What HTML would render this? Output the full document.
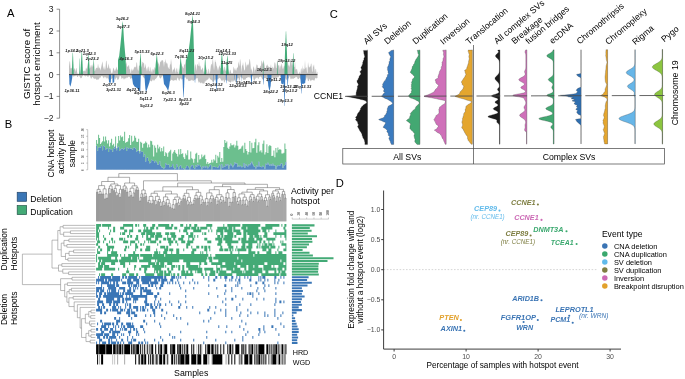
<!DOCTYPE html>
<html><head><meta charset="utf-8"><title>Figure</title>
<style>html,body{margin:0;padding:0;background:#fff;}body{width:685px;height:379px;overflow:hidden;font-family:"Liberation Sans",sans-serif;}svg{display:block;will-change:transform;}</style>
</head><body>
<svg width="685" height="379" viewBox="0 0 685 379" font-family="&quot;Liberation Sans&quot;, sans-serif">
<text x="7" y="16.5" font-size="11.2" text-anchor="start" fill="#000">A</text>
<text x="4.8" y="127.8" font-size="11.2" text-anchor="start" fill="#000">B</text>
<text x="329.8" y="17.5" font-size="11.2" text-anchor="start" fill="#000">C</text>
<text x="335.8" y="187" font-size="11.2" text-anchor="start" fill="#000">D</text>
<g stroke="#444" stroke-width="0.6" fill="none">
<line x1="59.6" y1="9.2" x2="59.6" y2="118.2"/>
<line x1="56.6" y1="118.2" x2="59.6" y2="118.2"/>
<line x1="56.6" y1="96.4" x2="59.6" y2="96.4"/>
<line x1="56.6" y1="74.6" x2="59.6" y2="74.6"/>
<line x1="56.6" y1="52.8" x2="59.6" y2="52.8"/>
<line x1="56.6" y1="31" x2="59.6" y2="31"/>
<line x1="56.6" y1="9.2" x2="59.6" y2="9.2"/>
</g>
<text x="53.5" y="121.2" font-size="8.6" text-anchor="end" fill="#222">−2</text>
<text x="53.5" y="99.4" font-size="8.6" text-anchor="end" fill="#222">−1</text>
<text x="53.5" y="77.6" font-size="8.6" text-anchor="end" fill="#222">0</text>
<text x="53.5" y="55.8" font-size="8.6" text-anchor="end" fill="#222">1</text>
<text x="53.5" y="34" font-size="8.6" text-anchor="end" fill="#222">2</text>
<text x="53.5" y="12.2" font-size="8.6" text-anchor="end" fill="#222">3</text>
<text transform="translate(29.6,64.0) rotate(-90)" font-size="9.8" text-anchor="middle">GISTIC score of</text>
<text transform="translate(40.3,64.0) rotate(-90)" font-size="9.8" text-anchor="middle">hotspot enrichment</text>
<polygon fill="#c0c0c0" points="69,74.6 69,66.56 69.5,62.04 70,60.75 70.5,68.43 71,68.24 71.5,67.48 72,69.28 72.5,68.57 73,67.53 73.5,70.11 74,69.88 74.5,68.02 75,69.05 75.5,72.2 76,68.66 76.5,67.71 77,71.43 77.5,73.8 78,73.8 78.5,73.8 79,73.8 79.5,71.11 80,73.8 80.5,72.52 81,69.05 81.5,71.78 82,73.8 82.5,73.8 83,71.68 83.5,70.9 84,70.72 84.5,70.46 85,71.76 85.5,70.75 86,67.22 86.5,68.52 87,68.97 87.5,65.41 88,62.49 88.5,68.93 89,66.92 89.5,68.92 90,68.25 90.5,66.63 91,64.56 91.5,65.71 92,67.8 92.5,63.95 93,66.9 93.5,65.57 94,61.16 94.5,70.78 95,71.28 95.5,69.26 96,68.37 96.5,67.44 97,68.39 97.5,67.85 98,63.43 98.5,66.53 99,68.99 99.5,67.46 100,67.69 100.5,70.7 101,68.37 101.5,65.66 102,63.13 102.5,61.24 103,66.55 103.5,69.81 104,65.68 104.5,68.62 105,70.23 105.5,67.87 106,61.31 106.5,60.42 107,65.92 107.5,68.57 108,68.06 108.5,63.34 109,65.87 109.5,68.91 110,67.92 110.5,68.76 111,71.6 111.5,73.8 112,72.78 112.5,72.76 113,68.93 113.5,67.46 114,68.94 114.5,70.62 115,71.39 115.5,69.75 116,68.5 116.5,66.45 117,69.53 117.5,70.59 118,68.41 118.5,73.34 119,67.12 119.5,67.03 120,65.66 120.5,60.47 121,62.35 121.5,63.82 122,63.03 122.5,60.79 123,58.6 123.5,61.18 124,61.84 124.5,61.85 125,65.19 125.5,62.91 126,64.29 126.5,61.48 127,67.06 127.5,66.35 128,66.76 128.5,65.55 129,64.69 129.5,69.54 130,68.97 130.5,72.76 131,72.91 131.5,68 132,70.47 132.5,70.85 133,68.53 133.5,70.49 134,67.37 134.5,67.56 135,66.15 135.5,67.36 136,67.62 136.5,62.15 137,62.84 137.5,68.28 138,70.72 138.5,70.56 139,65.05 139.5,65.95 140,65.87 140.5,65.81 141,66.09 141.5,67.84 142,64.39 142.5,61.63 143,62 143.5,63.58 144,62.87 144.5,68.33 145,67.15 145.5,63.39 146,67.65 146.5,69.03 147,71.81 147.5,68.8 148,66.53 148.5,66.75 149,71.18 149.5,71.35 150,66.39 150.5,68.35 151,72.79 151.5,69.21 152,73.28 152.5,69.73 153,68.6 153.5,69.8 154,70.96 154.5,67.74 155,66.98 155.5,68.6 156,69.12 156.5,69.88 157,61.66 157.5,61.59 158,64.53 158.5,62.12 159,64.56 159.5,67.47 160,62.84 160.5,61.36 161,62 161.5,60.21 162,60.45 162.5,60.33 163,60.36 163.5,63.06 164,67.24 164.5,62.01 165,61.69 165.5,58.65 166,64.49 166.5,62.16 167,63.06 167.5,64.01 168,67.91 168.5,67.11 169,69.19 169.5,68.84 170,63.91 170.5,64.74 171,58.6 171.5,62.77 172,68.6 172.5,72.86 173,69.42 173.5,69.54 174,69.87 174.5,66.97 175,69.11 175.5,73.8 176,69.24 176.5,67.45 177,72.41 177.5,71.72 178,67.76 178.5,73.8 179,73.24 179.5,67.91 180,72.14 180.5,68.5 181,64.82 181.5,63.08 182,66.02 182.5,66.61 183,67.75 183.5,68.46 184,65.17 184.5,64.12 185,64.72 185.5,61.97 186,59 186.5,60.79 187,67 187.5,62.8 188,64.96 188.5,69.05 189,69.21 189.5,64.4 190,63.03 190.5,65.09 191,65.14 191.5,63.44 192,61.31 192.5,62.46 193,68.54 193.5,70.1 194,73.8 194.5,72.07 195,64.79 195.5,64.2 196,67.63 196.5,71.17 197,63.88 197.5,64.28 198,65.72 198.5,65.98 199,60.83 199.5,65.53 200,66.67 200.5,65.37 201,70.4 201.5,69.31 202,69.55 202.5,67.5 203,68.12 203.5,73.43 204,70.26 204.5,73.8 205,70.14 205.5,64.51 206,66.59 206.5,69.81 207,69.81 207.5,72.92 208,73.8 208.5,68.55 209,69.13 209.5,73.8 210,72.71 210.5,68.94 211,64.3 211.5,63.64 212,65.96 212.5,60.41 213,58.6 213.5,65.58 214,70.67 214.5,66.17 215,59.33 215.5,62.02 216,62.24 216.5,65.65 217,66.71 217.5,68.65 218,70.91 218.5,68.81 219,66.69 219.5,65.1 220,67.38 220.5,68.57 221,67.82 221.5,65.42 222,64.73 222.5,67.91 223,66.89 223.5,70.35 224,70.67 224.5,66.61 225,67.22 225.5,70.75 226,70.65 226.5,71.16 227,72.97 227.5,73.8 228,72.98 228.5,68.76 229,73.6 229.5,72.58 230,69.4 230.5,70.22 231,72.17 231.5,73.65 232,72.4 232.5,73.8 233,72.72 233.5,66.47 234,67.68 234.5,69.08 235,70.72 235.5,69.92 236,67.67 236.5,71.44 237,67.39 237.5,68.02 238,66.6 238.5,61.23 239,64.1 239.5,66.81 240,58.6 240.5,60.93 241,66.81 241.5,72.68 242,65.07 242.5,65.67 243,61.89 243.5,65.63 244,68.68 244.5,70.75 245,69.77 245.5,61.31 246,63.14 246.5,67.75 247,64.54 247.5,65.76 248,63.37 248.5,65.84 249,62.92 249.5,58.83 250,59.76 250.5,64.51 251,70.4 251.5,68.1 252,70.95 252.5,73.8 253,69.31 253.5,65.95 254,67.68 254.5,73.27 255,66.81 255.5,70.04 256,69.5 256.5,63.94 257,65.54 257.5,64.44 258,69.62 258.5,70.37 259,67.1 259.5,69.29 260,67.34 260.5,65.51 261,65.95 261.5,60.14 262,61.55 262.5,63.11 263,64.18 263.5,60.84 264,62.14 264.5,65.08 265,68.95 265.5,69.25 266,66.97 266.5,64.88 267,65.88 267.5,64.11 268,66.51 268.5,66.59 269,67.01 269.5,67.04 270,67.38 270.5,66.75 271,63.93 271.5,70.04 272,70.48 272.5,67.03 273,66.43 273.5,68.87 274,67.89 274.5,62.86 275,62.26 275.5,64.3 276,68.29 276.5,67.98 277,61.63 277.5,59.65 278,64.39 278.5,66.11 279,64.54 279.5,67.31 280,70.27 280.5,65.05 281,67.02 281.5,63.45 282,64.82 282.5,68.01 283,69.19 283.5,67.64 284,65.54 284.5,66.85 285,64.62 285.5,67.73 286,66.81 286.5,70.56 287,66.85 287.5,59.61 288,62.23 288.5,66.29 289,64.63 289.5,67.61 290,63.97 290.5,58.6 291,60.62 291.5,62.51 292,66.09 292.5,60.97 293,69.38 293.5,66.28 294,67.25 294.5,66.69 295,59.98 295.5,68.81 296,69.92 296.5,68.97 297,68.63 297.5,71.38 298,73.64 298.5,73.8 299,72.89 299.5,71.37 300,73.8 300.5,73.36 301,68.33 301.5,68.71 302,73.06 302.5,65.11 303,71.5 303.5,68.36 304,68.75 304.5,69.55 305,59.63 305.5,68.71 306,67.17 306.5,67.51 307,72.13 307.5,73.22 308,61.65 308.5,65.36 309,67.8 309.5,67.2 310,66.49 310.5,66.59 311,63.19 311.5,64.17 312,70.91 312.5,72.33 313,64.62 313.5,67.32 314,64.07 314.5,69.79 315,73.19 315.5,69.36 316,68.72 316.5,73.8 317,72.7 317.5,71.42 317.5,74.6 317.5,78.37 317,77.84 316.5,78.84 316,78.1 315.5,77.66 315,79.02 314.5,80.23 314,80.95 313.5,80.04 313,80.16 312.5,79.51 312,80.42 311.5,79.81 311,81.46 310.5,80.63 310,79.71 309.5,78.53 309,80.6 308.5,81.19 308,80.9 307.5,78.99 307,76.8 306.5,78.28 306,79.72 305.5,80.74 305,79.71 304.5,79.27 304,78.65 303.5,79.18 303,78.56 302.5,80.31 302,79.9 301.5,80.16 301,79.26 300.5,79.14 300,77.46 299.5,77.64 299,78.65 298.5,79.3 298,78.81 297.5,78.68 297,76.69 296.5,77.56 296,76.42 295.5,77.22 295,77.93 294.5,77.9 294,78.21 293.5,78.83 293,78.67 292.5,78.93 292,77.64 291.5,78.96 291,79.16 290.5,78.9 290,76.29 289.5,76.17 289,77.66 288.5,78.56 288,78.82 287.5,77.19 287,79.42 286.5,79.52 286,80.06 285.5,78.72 285,77.26 284.5,77.59 284,78.56 283.5,78.3 283,76.63 282.5,76.38 282,78.64 281.5,77.42 281,78.21 280.5,76.49 280,77.04 279.5,75.1 279,76.18 278.5,77.37 278,77.27 277.5,77.46 277,77.07 276.5,78.03 276,77.95 275.5,78.28 275,78.13 274.5,78.93 274,79.76 273.5,79.85 273,77.77 272.5,77.97 272,77.17 271.5,79.31 271,79.36 270.5,80.72 270,79.99 269.5,81.16 269,81.25 268.5,82.07 268,82.42 267.5,81.81 267,80.59 266.5,79.08 266,78.71 265.5,78.05 265,78.1 264.5,77.95 264,78.49 263.5,80.19 263,79.71 262.5,79.26 262,78.65 261.5,77.3 261,77.02 260.5,76.3 260,77.08 259.5,76.98 259,77.6 258.5,79.04 258,78.66 257.5,77.49 257,77.28 256.5,78.36 256,77.34 255.5,78.72 255,79.04 254.5,80.84 254,80.52 253.5,79.11 253,76.05 252.5,75.93 252,77.13 251.5,79.4 251,78.92 250.5,77.69 250,76.57 249.5,77.73 249,77.38 248.5,76.91 248,77.39 247.5,77.3 247,78.09 246.5,77.96 246,78.19 245.5,80.13 245,78.79 244.5,80.09 244,80.12 243.5,79.7 243,79.34 242.5,78.07 242,78.15 241.5,77.74 241,76.81 240.5,76.73 240,79.08 239.5,80.45 239,80.71 238.5,77.77 238,78.14 237.5,78.04 237,79.92 236.5,81.02 236,81.77 235.5,82.42 235,80.96 234.5,79.4 234,79.89 233.5,80.98 233,81.93 232.5,81.54 232,79.87 231.5,81.57 231,82.22 230.5,82.81 230,81.88 229.5,81.81 229,81.96 228.5,81.43 228,80.67 227.5,80.39 227,80.65 226.5,80.07 226,80.33 225.5,79.7 225,80.92 224.5,82.56 224,82.25 223.5,79.89 223,79.45 222.5,80.74 222,81.32 221.5,80.38 221,79.69 220.5,78.74 220,77.89 219.5,77.66 219,78.4 218.5,78.58 218,79.28 217.5,79.35 217,79.2 216.5,78.41 216,78.91 215.5,79.56 215,81.01 214.5,79.45 214,81.2 213.5,82.06 213,82.52 212.5,81.46 212,80.39 211.5,79.94 211,79.8 210.5,79.44 210,78.85 209.5,78.2 209,76.96 208.5,78.75 208,79.41 207.5,79.87 207,79.6 206.5,80.67 206,80.31 205.5,81.91 205,80.38 204.5,83.25 204,83.56 203.5,83.6 203,83.6 202.5,83.6 202,82.56 201.5,82.43 201,83.42 200.5,82.89 200,82.45 199.5,81.45 199,83.14 198.5,82.01 198,80.51 197.5,77.82 197,78.36 196.5,78.58 196,78.28 195.5,79.42 195,79.67 194.5,79.98 194,79.96 193.5,81.04 193,80.76 192.5,80.49 192,79.52 191.5,80.09 191,80.72 190.5,80.29 190,81.23 189.5,80.72 189,80.94 188.5,81.29 188,79.71 187.5,79.33 187,78.29 186.5,79.63 186,78.33 185.5,77.49 185,76.41 184.5,77.38 184,78.15 183.5,78.15 183,78.73 182.5,79.16 182,79.14 181.5,79.69 181,78.06 180.5,78.68 180,78.58 179.5,80.9 179,80.44 178.5,79.75 178,77.49 177.5,77.66 177,79.36 176.5,80.39 176,80.65 175.5,79.78 175,79.98 174.5,80.59 174,79.91 173.5,81.03 173,80.55 172.5,80.55 172,79.75 171.5,79.72 171,80.29 170.5,80.81 170,81.29 169.5,81.03 169,81.32 168.5,81.33 168,81.71 167.5,79.67 167,77.78 166.5,78.26 166,79.61 165.5,81.05 165,80.43 164.5,79.22 164,78.93 163.5,77.48 163,76.92 162.5,75.52 162,75.88 161.5,77.26 161,77.96 160.5,78.64 160,77.82 159.5,77.7 159,76.33 158.5,75.1 158,75.46 157.5,76.19 157,77.53 156.5,77.83 156,78.71 155.5,78.8 155,79.28 154.5,80.24 154,80.69 153.5,80.55 153,79.1 152.5,80.03 152,81.15 151.5,81.21 151,81.24 150.5,80.87 150,80.16 149.5,79.28 149,78.84 148.5,79 148,79.42 147.5,78.42 147,79.88 146.5,79.23 146,79.4 145.5,77.63 145,78.84 144.5,77.95 144,78.61 143.5,77 143,77.33 142.5,75.18 142,75.33 141.5,75.1 141,75.91 140.5,75.26 140,75.84 139.5,75.1 139,75.1 138.5,75.1 138,75.1 137.5,76.45 137,75.42 136.5,76.07 136,76.45 135.5,77.62 135,77.57 134.5,77.62 134,79 133.5,79.91 133,79.59 132.5,78.34 132,77.77 131.5,78.35 131,78.73 130.5,78.98 130,77.6 129.5,77.1 129,76.39 128.5,76.75 128,77.4 127.5,77.8 127,77.43 126.5,77.62 126,78.79 125.5,78.35 125,78.35 124.5,78.63 124,79.69 123.5,78.75 123,77.43 122.5,78.3 122,78.41 121.5,78.96 121,76.43 120.5,76.3 120,75.43 119.5,76.44 119,78.44 118.5,79.13 118,80.08 117.5,79.78 117,78.3 116.5,77.44 116,77.5 115.5,79.36 115,79.64 114.5,77.66 114,76.65 113.5,76.43 113,77.88 112.5,78.23 112,79.04 111.5,78.78 111,78.84 110.5,80.19 110,78.53 109.5,79.17 109,78.02 108.5,80.6 108,78.33 107.5,78.39 107,76.94 106.5,78.59 106,78.6 105.5,77.01 105,76.82 104.5,76.84 104,78.82 103.5,77.42 103,77.57 102.5,76.1 102,76.3 101.5,75.9 101,76.27 100.5,78.16 100,77.09 99.5,78.31 99,78.65 98.5,79.44 98,79.79 97.5,79.16 97,79.99 96.5,79.87 96,78.89 95.5,78.3 95,79.17 94.5,78.2 94,79.33 93.5,77.71 93,77.71 92.5,76.64 92,77.01 91.5,78.45 91,78.82 90.5,77.34 90,76.06 89.5,75.32 89,75.38 88.5,76.76 88,76.63 87.5,76.72 87,75.88 86.5,76.01 86,75.24 85.5,76.77 85,76.28 84.5,75.98 84,75.1 83.5,75.1 83,75.89 82.5,75.82 82,77.25 81.5,77.92 81,78.13 80.5,78.2 80,77.03 79.5,76.46 79,75.43 78.5,75.5 78,76.89 77.5,77.1 77,76.45 76.5,75.61 76,75.26 75.5,75.9 75,76.37 74.5,76.13 74,76.11 73.5,77.11 73,75.85 72.5,75.69 72,75.1 71.5,76.32 71,75.35 70.5,76.02 70,76.5 69.5,78.37 69,77.42"/>
<polygon fill="#45ad7a" fill-opacity="1" points="71.8,74.6 72.2,62.55 72.65,52.7 72.95,52.7 73.4,63.65 73.8,74.6"/>
<polygon fill="#45ad7a" fill-opacity="0.8" points="79.1,74.6 79.38,65.69 79.65,58.4 79.95,58.4 80.22,66.5 80.5,74.6"/>
<polygon fill="#45ad7a" fill-opacity="1" points="80.6,74.6 81.08,61.67 81.65,51.1 81.95,51.1 82.52,62.85 83,74.6"/>
<polygon fill="#45ad7a" fill-opacity="1" points="87.6,74.6 88.04,63.49 88.55,54.4 88.85,54.4 89.36,64.5 89.8,74.6"/>
<polygon fill="#45ad7a" fill-opacity="0.7" points="92.7,74.6 93.06,65.69 93.45,58.4 93.75,58.4 94.14,66.5 94.5,74.6"/>
<polygon fill="#45ad7a" fill-opacity="1" points="139.3,74.6 139.78,63.05 140.35,53.6 140.65,53.6 141.22,64.1 141.7,74.6"/>
<polygon fill="#45ad7a" fill-opacity="1" points="155,74.6 155.72,63.71 156.65,54.8 156.95,54.8 157.88,64.7 158.6,74.6"/>
<polygon fill="#45ad7a" fill-opacity="1" points="179.3,74.6 179.86,65.19 180.55,57.5 180.85,57.5 181.54,66.05 182.1,74.6"/>
<polygon fill="#45ad7a" fill-opacity="1" points="204.2,74.6 204.6,65.8 205.05,58.6 205.35,58.6 205.8,66.6 206.2,74.6"/>
<polygon fill="#45ad7a" fill-opacity="1" points="220.4,74.6 221,62.77 221.75,53.1 222.05,53.1 222.8,63.85 223.4,74.6"/>
<polygon fill="#45ad7a" fill-opacity="1" points="226,74.6 226.56,64.26 227.25,55.8 227.55,55.8 228.24,65.2 228.8,74.6"/>
<polygon fill="#45ad7a" fill-opacity="0.6" points="262.7,74.6 262.94,66.73 263.15,60.3 263.45,60.3 263.66,67.45 263.9,74.6"/>
<polygon fill="#45ad7a" fill-opacity="0.7" points="276.9,74.6 277.14,67.5 277.35,61.7 277.65,61.7 277.86,68.15 278.1,74.6"/>
<polygon fill="#45ad7a" fill-opacity="1" points="284.4,74.6 285.04,50.78 285.85,31.3 286.15,31.3 286.96,52.95 287.6,74.6"/>
<polygon fill="#45ad7a" fill-opacity="1" points="292.4,74.6 292.76,62.88 293.15,53.3 293.45,53.3 293.84,63.95 294.2,74.6"/>
<polygon fill="#45ad7a" fill-opacity="1" points="118,74.6 118,60 119.2,56 120.3,46 121.3,36 122.3,24 122.7,20.9 123.2,26 124,40 125,52 125.6,58 126.2,74.6"/>
<polygon fill="#45ad7a" fill-opacity="1" points="186,74.6 186,60 187.2,57 188.6,51 189.8,42 190.8,32 191.8,22 192.4,14.6 192.9,20 193.5,36 194,55 194.4,74.6"/>
<polygon fill="#3b7cc2" fill-opacity="1" points="182.4,74.6 182.84,87.03 183.35,97.2 183.65,97.2 184.16,85.9 184.6,74.6"/>
<polygon fill="#3b7cc2" fill-opacity="0.5" points="193.8,74.6 194.04,78.94 194.25,82.5 194.55,82.5 194.76,78.55 195,74.6"/>
<polygon fill="#3b7cc2" fill-opacity="0.5" points="195,74.6 195.2,79.06 195.35,82.7 195.65,82.7 195.8,78.65 196,74.6"/>
<polygon fill="#3b7cc2" fill-opacity="0.5" points="213,74.6 213.2,79.06 213.35,82.7 213.65,82.7 213.8,78.65 214,74.6"/>
<polygon fill="#3b7cc2" fill-opacity="1" points="215.5,74.6 215.94,83.4 216.45,90.6 216.75,90.6 217.26,82.6 217.7,74.6"/>
<polygon fill="#3b7cc2" fill-opacity="1" points="225.7,74.6 225.94,79.33 226.15,83.2 226.45,83.2 226.66,78.9 226.9,74.6"/>
<polygon fill="#3b7cc2" fill-opacity="0.5" points="234.1,74.6 234.3,78.17 234.45,81.1 234.75,81.1 234.9,77.85 235.1,74.6"/>
<polygon fill="#3b7cc2" fill-opacity="1" points="236,74.6 236.28,79.61 236.55,83.7 236.85,83.7 237.12,79.15 237.4,74.6"/>
<polygon fill="#3b7cc2" fill-opacity="0.5" points="240.9,74.6 241.1,78.45 241.25,81.6 241.55,81.6 241.7,78.1 241.9,74.6"/>
<polygon fill="#3b7cc2" fill-opacity="1" points="250.7,74.6 251.02,80.48 251.35,85.3 251.65,85.3 251.98,79.95 252.3,74.6"/>
<polygon fill="#3b7cc2" fill-opacity="1" points="262.8,74.6 263.04,79.99 263.25,84.4 263.55,84.4 263.76,79.5 264,74.6"/>
<polygon fill="#3b7cc2" fill-opacity="1" points="283.7,74.6 284.02,91.92 284.35,106.1 284.65,106.1 284.98,90.35 285.3,74.6"/>
<polygon fill="#3b7cc2" fill-opacity="1" points="287,74.6 287.28,81.09 287.55,86.4 287.85,86.4 288.12,80.5 288.4,74.6"/>
<polygon fill="#3b7cc2" fill-opacity="1" points="300.7,74.6 301.02,85.05 301.35,93.6 301.65,93.6 301.98,84.1 302.3,74.6"/>
<polygon fill="#3b7cc2" fill-opacity="1" points="69.2,74.6 69.4,84 70.4,86.8 71.4,82.5 72.2,78 72.5,74.6"/>
<polygon fill="#3b7cc2" fill-opacity="1" points="108.8,74.6 109,82.5 110.8,82.8 111.1,74.6"/>
<polygon fill="#3b7cc2" fill-opacity="1" points="112.4,74.6 112.6,83 114.2,82.2 114.5,74.6"/>
<polygon fill="#3b7cc2" fill-opacity="1" points="131.6,74.6 133,84 134.5,86.5 137,88 139.5,91 140.3,91.6 140.8,74.6"/>
<polygon fill="#3b7cc2" fill-opacity="1" points="144.4,74.6 145.3,88 146,92.3 147.5,88 149.5,82 151,74.6"/>
<polygon fill="#3b7cc2" fill-opacity="1" points="162.9,74.6 164,84 165.5,86 167,88.5 168.1,91 169.2,86 170.8,74.6"/>
<polygon fill="#3b7cc2" fill-opacity="1" points="267.3,74.6 268.3,86 269.5,91.6 270.6,86 271.6,74.6"/>
<polygon fill="#3b7cc2" fill-opacity="1" points="280.7,74.6 281.2,83.5 283.5,84.4 285.3,74.6"/>
<polygon fill="#3b7cc2" fill-opacity="1" points="300.3,74.6 300.8,83 303,84 305.2,83 305.8,74.6"/>
<line x1="69" y1="74.6" x2="317.5" y2="74.6" stroke="#2a2a2a" stroke-width="0.85"/>
<g font-size="4.15" font-weight="bold" font-style="italic" text-anchor="middle" fill="#262626">
<text x="72" y="91.7">1p36.11</text>
<text x="71.8" y="52.1">1p34.2</text>
<text x="82.3" y="51.5">1q21.3</text>
<text x="89.3" y="54.5">1q42.3</text>
<text x="92.3" y="60.1">2p23.2</text>
<text x="122.2" y="20.1">3q26.2</text>
<text x="123.2" y="27.7">3q27.3</text>
<text x="126" y="59.7">4p16.3</text>
<text x="109.3" y="85.8">2q37.3</text>
<text x="113.5" y="91.3">3p21.31</text>
<text x="133" y="91">4q22.1</text>
<text x="140.6" y="94">4q35.2</text>
<text x="145.7" y="100.2">5q11.2</text>
<text x="146.4" y="107.2">5q13.2</text>
<text x="142" y="52.7">5p15.33</text>
<text x="157" y="55.2">6p22.3</text>
<text x="168.3" y="94">6q26.3</text>
<text x="169.8" y="100.5">7p22.1</text>
<text x="185.2" y="100.5">8p23.3</text>
<text x="184.2" y="105.4">8p22</text>
<text x="181" y="57.9">7q36.1</text>
<text x="186.8" y="52.4">8q11.23</text>
<text x="192.5" y="14.7">8q24.21</text>
<text x="193.7" y="23.1">8q24.3</text>
<text x="205.6" y="58.9">10p15.2</text>
<text x="213.7" y="85.8">10q24.32</text>
<text x="216.9" y="91.3">11q23.3</text>
<text x="223" y="51.6">11q14.1</text>
<text x="227.3" y="55.3">12p13.33</text>
<text x="226.7" y="64.3">11q25</text>
<text x="237.7" y="87">12q24.33</text>
<text x="241.5" y="83.9">13q34</text>
<text x="253" y="83.9">15q26.3</text>
<text x="264.3" y="70.7">16p12.3</text>
<text x="273.5" y="81">17p11.2</text>
<text x="270.5" y="92.7">18q22.2</text>
<text x="288.5" y="87.6">19p13.11</text>
<text x="302.5" y="87.6">20q13.33</text>
<text x="289.6" y="91.8">19p13.2</text>
<text x="285" y="102.2">19p13.3</text>
<text x="287" y="46.1">19q12</text>
<text x="286.5" y="61.9">19p13.12</text>
</g>
<rect x="17.2" y="192.3" width="9.4" height="9" fill="#3a76b6" stroke="#24466b" stroke-width="0.7"/>
<rect x="17.2" y="205.6" width="9.4" height="9" fill="#43aa76" stroke="#24564a" stroke-width="0.7"/>
<text x="30.2" y="202" font-size="8.6" text-anchor="start" fill="#000">Deletion</text>
<text x="30.2" y="215.3" font-size="8.6" text-anchor="start" fill="#000">Duplication</text>
<text transform="translate(54.3,153.6) rotate(-90)" font-size="8.5" text-anchor="middle">CNA hotspot</text>
<text transform="translate(64.3,153.6) rotate(-90)" font-size="8.5" text-anchor="middle">activity per</text>
<text transform="translate(74.6,153.6) rotate(-90)" font-size="8.5" text-anchor="middle">sample</text>
<text transform="translate(7,270.4) rotate(-90)" font-size="8.5">Duplication</text>
<text transform="translate(16.8,270.4) rotate(-90)" font-size="8.5">Hotspots</text>
<text transform="translate(7,325.1) rotate(-90)" font-size="8.5">Deletion</text>
<text transform="translate(16.8,325.1) rotate(-90)" font-size="8.5">Hotspots</text>
<path fill="#6cbf8e" d="M96.1 140.1h1v5.73h-1zM97.1 143.72h1v6.96h-1zM98.1 134.78h1v12.98h-1zM99.1 137.92h1v9.42h-1zM100.11 144.12h1v3.43h-1zM101.11 142.41h1v3.43h-1zM102.11 141.3h1v8.9h-1zM103.11 136.62h1v9.11h-1zM104.11 141.48h1v5.07h-1zM105.11 136.39h1v13.73h-1zM106.12 140.36h1v8.04h-1zM107.12 143.56h1v4.69h-1zM108.12 140.21h1v11.85h-1zM109.12 146.52h1v2h-1zM110.12 142.82h1v6.46h-1zM111.12 138.73h1v10.58h-1zM112.13 145.32h1v6.44h-1zM113.13 143.67h1v4.1h-1zM114.13 146.86h1v2h-1zM115.13 136.54h1v9.43h-1zM116.13 148.37h1v2h-1zM117.13 143.25h1v4.41h-1zM118.13 135.97h1v10.82h-1zM119.14 140.39h1v10.56h-1zM120.14 135.46h1v13.96h-1zM121.14 137.17h1v11.68h-1zM122.14 136.39h1v12.1h-1zM123.14 141.11h1v8.44h-1zM124.14 131.7h1v17.12h-1zM125.15 142.67h1v4.44h-1zM126.15 141.94h1v9.09h-1zM127.15 141.41h1v6.25h-1zM128.15 138.14h1v10.71h-1zM129.15 134.91h1v13.12h-1zM130.15 145.1h1v3.35h-1zM131.16 135.68h1v12.73h-1zM132.16 141.82h1v7.98h-1zM133.16 140.68h1v7.02h-1zM134.16 135.7h1v12.11h-1zM135.16 137.84h1v10.91h-1zM136.16 141.76h1v9.88h-1zM137.16 142.07h1v8.8h-1zM138.17 138.76h1v11.55h-1zM139.17 151.16h1v2h-1zM140.17 141.74h1v9.12h-1zM141.17 142.68h1v9.4h-1zM142.17 147.67h1v4.11h-1zM143.17 143.64h1v13.35h-1zM144.18 143.21h1v11.24h-1zM145.18 141.4h1v20.11h-1zM146.18 142.64h1v15.27h-1zM147.18 147.39h1v10.06h-1zM148.18 144.42h1v16.67h-1zM149.18 147.13h1v16.24h-1zM150.19 140.81h1v21.63h-1zM151.19 141.18h1v18.68h-1zM152.19 144.65h1v15.87h-1zM153.19 156.6h1v4.48h-1zM154.19 145.5h1v17.02h-1zM155.19 147.64h1v13.23h-1zM156.19 152.58h1v9.66h-1zM157.2 144.64h1v20.1h-1zM158.2 148.51h1v15.72h-1zM159.2 146.69h1v14.52h-1zM160.2 151.46h1v14.41h-1zM161.2 147.91h1v19.29h-1zM162.2 151.14h1v16.51h-1zM163.21 146.41h1v22.49h-1zM164.21 156.12h1v11.75h-1zM165.21 152.26h1v11.03h-1zM166.21 153.17h1v11.45h-1zM167.21 156.66h1v8.3h-1zM168.21 152.52h1v12.07h-1zM169.22 151.37h1v15.98h-1zM170.22 149.75h1v17.25h-1zM171.22 160.68h1v5.57h-1zM172.22 153.4h1v10.59h-1zM173.22 151.84h1v15.69h-1zM174.22 149.9h1v19.35h-1zM175.22 152.71h1v15.76h-1zM176.23 153.93h1v10.33h-1zM177.23 156.48h1v10.57h-1zM178.23 149.24h1v19.91h-1zM179.23 154.55h1v11.82h-1zM180.23 149.11h1v16.47h-1zM181.23 153.96h1v14.39h-1zM182.24 153.37h1v14.74h-1zM183.24 157.2h1v11.52h-1zM184.24 159.04h1v10.76h-1zM185.24 153.58h1v14.13h-1zM186.24 155.27h1v10.45h-1zM187.24 150.22h1v15.72h-1zM188.25 159.56h1v7.61h-1zM189.25 159.5h1v10.07h-1zM190.25 151.51h1v15.32h-1zM191.25 158.3h1v6.95h-1zM192.25 159.13h1v6h-1zM193.25 162.65h1v5.42h-1zM194.25 158.79h1v9.92h-1zM195.26 153.78h1v11.58h-1zM196.26 152.75h1v14.12h-1zM197.26 162.42h1v2.1h-1zM198.26 154.99h1v10.48h-1zM199.26 159.54h1v5.55h-1zM200.26 158.81h1v8.22h-1zM201.27 154.47h1v14.8h-1zM202.27 157.23h1v9.1h-1zM203.27 155.78h1v11.8h-1zM204.27 154.73h1v11.28h-1zM205.27 158.94h1v8.52h-1zM206.27 163.74h1v2.29h-1zM207.28 161.92h1v6.33h-1zM208.28 164.01h1v2.99h-1zM209.28 162.98h1v2.41h-1zM210.28 162.77h1v2h-1zM211.28 159.8h1v9.62h-1zM212.28 162.59h1v4.07h-1zM213.28 159.16h1v7.58h-1zM214.29 160.4h1v6.45h-1zM215.29 154.71h1v12.53h-1zM216.29 163.11h1v3.8h-1zM217.29 155.71h1v12.3h-1zM218.29 157.4h1v8.95h-1zM219.29 151.99h1v12.7h-1zM220.3 161.91h1v7.89h-1zM221.3 157.88h1v6.46h-1zM222.3 161.65h1v6.22h-1zM223.3 147.09h1v18.89h-1zM224.3 139.95h1v26.97h-1zM225.3 142.99h1v21.15h-1zM226.31 141.38h1v24.38h-1zM227.31 147.73h1v16.6h-1zM228.31 149.09h1v19.73h-1zM229.31 146.51h1v18.9h-1zM230.31 143.31h1v20.54h-1zM231.31 145.2h1v20.19h-1zM232.31 145.16h1v22.04h-1zM233.32 144.43h1v20.82h-1zM234.32 147.52h1v14.98h-1zM235.32 145.58h1v18.11h-1zM236.32 140.68h1v22.54h-1zM237.32 145.71h1v21.3h-1zM238.32 149.77h1v15.69h-1zM239.33 148.89h1v17.56h-1zM240.33 148.39h1v17.35h-1zM241.33 146.58h1v20.57h-1zM242.33 145.49h1v21.2h-1zM243.33 152.81h1v10.28h-1zM244.33 142.69h1v24.95h-1zM245.34 148.98h1v15.27h-1zM246.34 151.12h1v14.64h-1zM247.34 154.6h1v11.94h-1zM248.34 152.1h1v12.12h-1zM249.34 141.05h1v24.14h-1zM250.34 152.58h1v10.54h-1zM251.34 142.79h1v19.01h-1zM252.35 148.16h1v16.17h-1zM253.35 147.94h1v18.24h-1zM254.35 142.17h1v24.46h-1zM255.35 138.66h1v29.83h-1zM256.35 152.75h1v12.69h-1zM257.35 145.35h1v21.31h-1zM258.36 142.34h1v19.35h-1zM259.36 151.45h1v15.13h-1zM260.36 150.27h1v16.46h-1zM261.36 152.39h1v14.92h-1zM262.36 143.68h1v22.12h-1zM263.36 140.47h1v26.17h-1zM264.37 154.48h1v14.31h-1zM265.37 152.37h1v11.28h-1zM266.37 144.24h1v20.55h-1zM267.37 153.09h1v9.59h-1zM268.37 146.31h1v18.12h-1zM269.37 144.95h1v20.68h-1zM270.37 145.99h1v17.96h-1zM271.38 155.97h1v9.77h-1zM272.38 155.85h1v7.8h-1zM273.38 150.44h1v15.23h-1zM274.38 157.22h1v7.99h-1zM275.38 147.91h1v21h-1zM276.38 152.4h1v14.04h-1zM277.39 147.4h1v17.7h-1zM278.39 149.92h1v15.56h-1zM279.39 149.06h1v16.8h-1zM280.39 149.81h1v13.84h-1zM281.39 153.58h1v10.03h-1zM282.39 153.48h1v14.52h-1zM283.4 152.79h1v12.84h-1zM284.4 143.57h1v21.33h-1zM285.4 149.01h1v13h-1z"/>
<path fill="#5589c2" d="M96.1 145.83h1v23.97h-1zM97.1 150.68h1v19.12h-1zM98.1 147.76h1v22.04h-1zM99.1 147.34h1v22.46h-1zM100.11 147.55h1v22.25h-1zM101.11 145.84h1v23.96h-1zM102.11 150.2h1v19.6h-1zM103.11 145.73h1v24.07h-1zM104.11 146.55h1v23.25h-1zM105.11 150.12h1v19.68h-1zM106.12 148.4h1v21.4h-1zM107.12 148.24h1v21.56h-1zM108.12 152.06h1v17.74h-1zM109.12 148.52h1v21.28h-1zM110.12 149.28h1v20.52h-1zM111.12 149.31h1v20.49h-1zM112.13 151.76h1v18.04h-1zM113.13 147.76h1v22.04h-1zM114.13 148.86h1v20.94h-1zM115.13 145.97h1v23.83h-1zM116.13 150.37h1v19.43h-1zM117.13 147.66h1v22.14h-1zM118.13 146.79h1v23.01h-1zM119.14 150.95h1v18.85h-1zM120.14 149.42h1v20.38h-1zM121.14 148.86h1v20.94h-1zM122.14 148.49h1v21.31h-1zM123.14 149.55h1v20.25h-1zM124.14 148.82h1v20.98h-1zM125.15 147.11h1v22.69h-1zM126.15 151.02h1v18.78h-1zM127.15 147.66h1v22.14h-1zM128.15 148.86h1v20.94h-1zM129.15 148.03h1v21.77h-1zM130.15 148.44h1v21.36h-1zM131.16 148.4h1v21.4h-1zM132.16 149.81h1v19.99h-1zM133.16 147.69h1v22.11h-1zM134.16 147.81h1v21.99h-1zM135.16 148.74h1v21.06h-1zM136.16 151.64h1v18.16h-1zM137.16 150.88h1v18.92h-1zM138.17 150.31h1v19.49h-1zM139.17 153.16h1v16.64h-1zM140.17 150.86h1v18.94h-1zM141.17 152.08h1v17.72h-1zM142.17 151.78h1v18.02h-1zM143.17 156.99h1v12.81h-1zM144.18 154.45h1v15.35h-1zM145.18 161.51h1v8.29h-1zM146.18 157.91h1v11.89h-1zM147.18 157.45h1v12.35h-1zM148.18 161.09h1v8.71h-1zM149.18 163.37h1v6.43h-1zM150.19 162.44h1v7.36h-1zM151.19 159.86h1v9.94h-1zM152.19 160.52h1v9.28h-1zM153.19 161.08h1v8.72h-1zM154.19 162.52h1v7.28h-1zM155.19 160.87h1v8.93h-1zM156.19 162.24h1v7.56h-1zM157.2 164.74h1v5.06h-1zM158.2 164.24h1v5.56h-1zM159.2 161.21h1v8.59h-1zM160.2 165.87h1v3.93h-1zM161.2 167.2h1v2.6h-1zM162.2 167.64h1v2.16h-1zM163.21 168.9h1v0.9h-1zM164.21 167.86h1v1.94h-1zM165.21 163.29h1v6.51h-1zM166.21 164.62h1v5.18h-1zM167.21 164.96h1v4.84h-1zM168.21 164.59h1v5.21h-1zM169.22 167.35h1v2.45h-1zM170.22 167.01h1v2.79h-1zM171.22 166.25h1v3.55h-1zM172.22 164h1v5.8h-1zM173.22 167.53h1v2.27h-1zM174.22 169.25h1v0.55h-1zM175.22 168.47h1v1.33h-1zM176.23 164.25h1v5.55h-1zM177.23 167.05h1v2.75h-1zM178.23 169.15h1v0.65h-1zM179.23 166.37h1v3.43h-1zM180.23 165.58h1v4.22h-1zM181.23 168.35h1v1.45h-1zM182.24 168.1h1v1.7h-1zM183.24 168.73h1v1.07h-1zM185.24 167.71h1v2.09h-1zM186.24 165.72h1v4.08h-1zM187.24 165.93h1v3.87h-1zM188.25 167.17h1v2.63h-1zM189.25 169.57h1v0.23h-1zM190.25 166.83h1v2.97h-1zM191.25 165.25h1v4.55h-1zM192.25 165.13h1v4.67h-1zM193.25 168.07h1v1.73h-1zM194.25 168.72h1v1.08h-1zM195.26 165.37h1v4.43h-1zM196.26 166.87h1v2.93h-1zM197.26 164.52h1v5.28h-1zM198.26 165.47h1v4.33h-1zM199.26 165.09h1v4.71h-1zM200.26 167.04h1v2.76h-1zM201.27 169.27h1v0.53h-1zM202.27 166.34h1v3.46h-1zM203.27 167.58h1v2.22h-1zM204.27 166.01h1v3.79h-1zM205.27 167.46h1v2.34h-1zM206.27 166.04h1v3.76h-1zM207.28 168.25h1v1.55h-1zM208.28 167.01h1v2.79h-1zM209.28 165.38h1v4.42h-1zM210.28 164.77h1v5.03h-1zM211.28 169.42h1v0.38h-1zM212.28 166.66h1v3.14h-1zM213.28 166.74h1v3.06h-1zM214.29 166.85h1v2.95h-1zM215.29 167.24h1v2.56h-1zM216.29 166.92h1v2.88h-1zM217.29 168.01h1v1.79h-1zM218.29 166.35h1v3.45h-1zM219.29 164.69h1v5.11h-1zM221.3 164.34h1v5.46h-1zM222.3 167.87h1v1.93h-1zM223.3 165.98h1v3.82h-1zM224.3 166.92h1v2.88h-1zM225.3 164.14h1v5.66h-1zM226.31 165.76h1v4.04h-1zM227.31 164.33h1v5.47h-1zM228.31 168.82h1v0.98h-1zM229.31 165.41h1v4.39h-1zM230.31 163.85h1v5.95h-1zM231.31 165.39h1v4.41h-1zM232.31 167.2h1v2.6h-1zM233.32 165.25h1v4.55h-1zM234.32 162.5h1v7.3h-1zM235.32 163.69h1v6.11h-1zM236.32 163.21h1v6.59h-1zM237.32 167h1v2.8h-1zM238.32 165.45h1v4.35h-1zM239.33 166.45h1v3.35h-1zM240.33 165.75h1v4.05h-1zM241.33 167.15h1v2.65h-1zM242.33 166.69h1v3.11h-1zM243.33 163.09h1v6.71h-1zM244.33 167.64h1v2.16h-1zM245.34 164.26h1v5.54h-1zM246.34 165.77h1v4.03h-1zM247.34 166.54h1v3.26h-1zM248.34 164.21h1v5.59h-1zM249.34 165.19h1v4.61h-1zM250.34 163.13h1v6.67h-1zM251.34 161.81h1v7.99h-1zM252.35 164.33h1v5.47h-1zM253.35 166.18h1v3.62h-1zM254.35 166.63h1v3.17h-1zM255.35 168.5h1v1.3h-1zM256.35 165.44h1v4.36h-1zM257.35 166.66h1v3.14h-1zM258.36 161.69h1v8.11h-1zM259.36 166.58h1v3.22h-1zM260.36 166.73h1v3.07h-1zM261.36 167.31h1v2.49h-1zM262.36 165.8h1v4h-1zM263.36 166.64h1v3.16h-1zM264.37 168.79h1v1.01h-1zM265.37 163.65h1v6.15h-1zM266.37 164.8h1v5h-1zM267.37 162.68h1v7.12h-1zM268.37 164.43h1v5.37h-1zM269.37 165.63h1v4.17h-1zM270.37 163.95h1v5.85h-1zM271.38 165.74h1v4.06h-1zM272.38 163.65h1v6.15h-1zM273.38 165.67h1v4.13h-1zM274.38 165.21h1v4.59h-1zM275.38 168.91h1v0.89h-1zM276.38 166.44h1v3.36h-1zM277.39 165.1h1v4.7h-1zM278.39 165.49h1v4.31h-1zM279.39 165.86h1v3.94h-1zM280.39 163.65h1v6.15h-1zM281.39 163.61h1v6.19h-1zM282.39 168.01h1v1.79h-1zM283.4 165.63h1v4.17h-1zM284.4 164.91h1v4.89h-1zM285.4 162.01h1v7.79h-1z"/>
<g stroke="#777" stroke-width="0.4">
<line x1="87.7" y1="129.6" x2="87.7" y2="169.8"/>
<line x1="86.2" y1="169.8" x2="87.7" y2="169.8"/>
<line x1="86.2" y1="163.1" x2="87.7" y2="163.1"/>
<line x1="86.2" y1="156.4" x2="87.7" y2="156.4"/>
<line x1="86.2" y1="149.7" x2="87.7" y2="149.7"/>
<line x1="86.2" y1="143" x2="87.7" y2="143"/>
<line x1="86.2" y1="136.3" x2="87.7" y2="136.3"/>
<line x1="86.2" y1="129.6" x2="87.7" y2="129.6"/>
</g>
<g font-size="3.0" fill="#333" text-anchor="middle">
<text transform="translate(84.3,169.8) rotate(-90)">0</text>
<text transform="translate(84.3,163.1) rotate(-90)">5</text>
<text transform="translate(84.3,156.4) rotate(-90)">10</text>
<text transform="translate(84.3,149.7) rotate(-90)">15</text>
<text transform="translate(84.3,143) rotate(-90)">20</text>
<text transform="translate(84.3,136.3) rotate(-90)">25</text>
<text transform="translate(84.3,129.6) rotate(-90)">30</text>
</g>
<path fill="none" stroke="#7f7f7f" stroke-width="0.85" d="M96.6 192.11V221.4M97.6 192.11V221.4M98.6 194.07V221.4M99.61 194.07V221.4M100.61 193.89V221.4M101.61 193.89V221.4M102.61 193.92V221.4M103.61 193.92V221.4M104.61 198.8V221.4M105.61 198.8V221.4M106.62 197.98V221.4M107.62 197.98V221.4M109.62 193.44V221.4M110.62 193.44V221.4M108.62 188.44V221.4M111.62 189.03V221.4M112.63 189.03V221.4M113.63 190.54V221.4M114.63 190.54V221.4M116.63 195.44V221.4M117.63 195.44V221.4M115.63 192.29V221.4M119.64 197.12V221.4M120.64 197.12V221.4M118.64 193.48V221.4M121.64 189.26V221.4M122.64 189.18V221.4M123.64 189.18V221.4M124.64 190.19V221.4M125.65 190.19V221.4M126.65 192.05V221.4M127.65 192.05V221.4M128.65 196.8V221.4M129.65 196.8V221.4M130.65 195.28V221.4M131.66 195.28V221.4M132.66 196.94V221.4M133.66 196.94V221.4M134.66 192.89V221.4M135.66 189.75V221.4M136.66 189.75V221.4M137.67 190.06V221.4M138.67 190.06V221.4M139.67 200.9V221.4M140.67 200.9V221.4M141.67 197.42V221.4M142.67 193.79V221.4M143.67 197.23V221.4M144.68 197.23V221.4M145.68 196.29V221.4M146.68 196.29V221.4M147.68 202.22V221.4M148.68 202.22V221.4M149.68 203.37V221.4M150.69 203.37V221.4M151.69 203.55V221.4M152.69 203.55V221.4M153.69 200.19V221.4M155.69 204.57V221.4M156.7 204.57V221.4M154.69 200.43V221.4M157.7 201.43V221.4M158.7 201.43V221.4M160.7 206.08V221.4M161.7 206.08V221.4M159.7 202.1V221.4M163.71 205.45V221.4M164.71 205.45V221.4M162.7 201.36V221.4M165.71 202.58V221.4M166.71 202.58V221.4M167.71 205.62V221.4M168.71 205.62V221.4M169.72 207.16V221.4M170.72 207.16V221.4M171.72 208.38V221.4M172.72 208.38V221.4M173.72 208.91V221.4M174.72 208.91V221.4M175.73 203.58V221.4M176.73 203.58V221.4M178.73 205.55V221.4M179.73 205.55V221.4M177.73 202.84V221.4M180.73 201.42V221.4M181.73 201.42V221.4M182.74 198.52V221.4M183.74 198.52V221.4M184.74 198.84V221.4M185.74 198.84V221.4M187.74 204.63V221.4M188.75 204.63V221.4M186.74 200.66V221.4M190.75 204.65V221.4M191.75 204.65V221.4M189.75 202.02V221.4M192.75 203.96V221.4M193.75 203.96V221.4M194.76 200.34V221.4M195.76 198.36V221.4M196.76 198.67V221.4M197.76 198.67V221.4M198.76 198.03V221.4M199.76 198.03V221.4M200.76 204.53V221.4M201.77 204.53V221.4M202.77 202.11V221.4M203.77 202.11V221.4M204.77 202.19V221.4M205.77 202.19V221.4M206.77 205.62V221.4M207.78 205.62V221.4M208.78 202.22V221.4M210.78 202.52V221.4M211.78 202.52V221.4M209.78 198.6V221.4M212.78 198.56V221.4M213.79 198.56V221.4M214.79 199.28V221.4M215.79 199.28V221.4M216.79 204.44V221.4M217.79 204.44V221.4M218.79 200.95V221.4M220.8 202.56V221.4M221.8 202.56V221.4M219.79 199.54V221.4M222.8 200.4V221.4M223.8 200.4V221.4M224.8 202.04V221.4M225.8 202.04V221.4M226.81 197.46V221.4M228.81 206.16V221.4M229.81 206.16V221.4M230.81 202.39V221.4M227.81 198.03V221.4M231.81 202.04V221.4M232.82 202.04V221.4M233.82 197.37V221.4M234.82 196.47V221.4M235.82 196.47V221.4M237.82 204.11V221.4M238.82 204.11V221.4M236.82 201.47V221.4M239.83 200.18V221.4M240.83 200.18V221.4M241.83 204.69V221.4M242.83 204.69V221.4M243.83 200.13V221.4M244.83 203.98V221.4M245.84 203.98V221.4M246.84 205.88V221.4M247.84 205.88V221.4M248.84 201.28V221.4M249.84 201.28V221.4M250.84 199.45V221.4M251.85 199.45V221.4M252.85 201.51V221.4M253.85 201.51V221.4M254.85 197.33V221.4M255.85 198.96V221.4M256.85 198.96V221.4M257.85 201.7V221.4M258.86 201.7V221.4M259.86 200.07V221.4M261.86 199.75V221.4M262.86 199.75V221.4M260.86 196.63V221.4M263.86 200.53V221.4M264.87 200.53V221.4M266.87 206.08V221.4M267.87 206.08V221.4M265.87 200.26V221.4M269.87 199.5V221.4M270.88 199.5V221.4M268.87 196.89V221.4M273.88 197.76V221.4M274.88 197.76V221.4M272.88 195.58V221.4M271.88 193.22V221.4M275.88 201.21V221.4M276.88 201.21V221.4M277.89 196.66V221.4M279.89 200.46V221.4M280.89 200.46V221.4M278.89 197.24V221.4M281.89 194.19V221.4M282.89 194.19V221.4M284.9 197.99V221.4M285.9 197.99V221.4M283.9 194.3V221.4"/>
<path fill="none" stroke="#5a5a5a" stroke-width="0.5" d="M96.6 192.11H97.6M98.6 194.07H99.61M100.61 193.89H101.61M99.1 191.58H101.11M99.1 191.58V194.07M101.11 191.58V193.89M97.1 189.38H100.11M97.1 189.38V192.11M100.11 189.38V191.58M102.61 193.92H103.61M104.61 198.8H105.61M106.62 197.98H107.62M105.11 193.85H107.12M105.11 193.85V198.8M107.12 193.85V197.98M103.11 188.85H106.12M103.11 188.85V193.92M106.12 188.85V193.85M98.6 185.62H104.61M98.6 185.62V189.38M104.61 185.62V188.85M109.62 193.44H110.62M108.62 188.44H110.12M110.12 188.44V193.44M111.62 189.03H112.63M109.37 185.95H112.13M109.37 185.95V188.44M112.13 185.95V189.03M113.63 190.54H114.63M116.63 195.44H117.63M115.63 192.29H117.13M117.13 192.29V195.44M114.13 188.4H116.38M114.13 188.4V190.54M116.38 188.4V192.29M119.64 197.12H120.64M118.64 193.48H120.14M120.14 193.48V197.12M119.39 189.26H121.64M119.39 189.26V193.48M115.26 185.64H120.51M115.26 185.64V188.4M120.51 185.64V189.26M110.75 184H117.88M110.75 184V185.95M117.88 184V185.64M101.61 181.5H114.32M101.61 181.5V185.62M114.32 181.5V184M122.64 189.18H123.64M124.64 190.19H125.65M126.65 192.05H127.65M125.15 187.94H127.15M125.15 187.94V190.19M127.15 187.94V192.05M123.14 186H126.15M123.14 186V189.18M126.15 186V187.94M128.65 196.8H129.65M130.65 195.28H131.66M129.15 191.46H131.16M129.15 191.46V196.8M131.16 191.46V195.28M132.66 196.94H133.66M133.16 192.89H134.66M133.16 192.89V196.94M130.15 188.17H133.91M130.15 188.17V191.46M133.91 188.17V192.89M135.66 189.75H136.66M137.67 190.06H138.67M136.16 187.7H138.17M136.16 187.7V189.75M138.17 187.7V190.06M132.03 185.83H137.16M132.03 185.83V188.17M137.16 185.83V187.7M124.64 183H134.6M124.64 183V186M134.6 183V185.83M107.96 177.3H129.62M107.96 177.3V181.5M129.62 177.3V183M139.67 200.9H140.67M140.17 197.42H141.67M140.17 197.42V200.9M140.92 193.79H142.67M140.92 193.79V197.42M143.67 197.23H144.68M145.68 196.29H146.68M144.18 193.4H146.18M144.18 193.4V197.23M146.18 193.4V196.29M141.8 190H145.18M141.8 190V193.79M145.18 190V193.4M147.68 202.22H148.68M149.68 203.37H150.69M148.18 200.4H150.19M148.18 200.4V202.22M150.19 200.4V203.37M151.69 203.55H152.69M152.19 200.19H153.69M152.19 200.19V203.55M149.18 196.43H152.94M149.18 196.43V200.4M152.94 196.43V200.19M155.69 204.57H156.7M154.69 200.43H156.19M156.19 200.43V204.57M157.7 201.43H158.7M160.7 206.08H161.7M159.7 202.1H161.2M161.2 202.1V206.08M158.2 199.49H160.45M158.2 199.49V201.43M160.45 199.49V202.1M155.44 196.35H159.32M155.44 196.35V200.43M159.32 196.35V199.49M151.06 193.27H157.38M151.06 193.27V196.43M157.38 193.27V196.35M163.71 205.45H164.71M162.7 201.36H164.21M164.21 201.36V205.45M165.71 202.58H166.71M167.71 205.62H168.71M169.72 207.16H170.72M168.21 203.23H170.22M168.21 203.23V205.62M170.22 203.23V207.16M166.21 199.62H169.22M166.21 199.62V202.58M169.22 199.62V203.23M163.46 196.9H167.71M163.46 196.9V201.36M167.71 196.9V199.62M171.72 208.38H172.72M173.72 208.91H174.72M172.22 204.67H174.22M172.22 204.67V208.38M174.22 204.67V208.91M175.73 203.58H176.73M173.22 199.47H176.23M173.22 199.47V204.67M176.23 199.47V203.58M178.73 205.55H179.73M177.73 202.84H179.23M179.23 202.84V205.55M180.73 201.42H181.73M178.48 199H181.23M178.48 199V202.84M181.23 199V201.42M174.72 197.09H179.86M174.72 197.09V199.47M179.86 197.09V199M165.58 193.95H177.29M165.58 193.95V196.9M177.29 193.95V197.09M154.22 191.15H171.44M154.22 191.15V193.27M171.44 191.15V193.95M182.74 198.52H183.74M184.74 198.84H185.74M183.24 195.61H185.24M183.24 195.61V198.52M185.24 195.61V198.84M187.74 204.63H188.75M186.74 200.66H188.25M188.25 200.66V204.63M190.75 204.65H191.75M189.75 202.02H191.25M191.25 202.02V204.65M187.49 197.27H190.5M187.49 197.27V200.66M190.5 197.27V202.02M184.24 193.3H189M184.24 193.3V195.61M189 193.3V197.27M192.75 203.96H193.75M193.25 200.34H194.76M193.25 200.34V203.96M194 198.36H195.76M194 198.36V200.34M196.76 198.67H197.76M194.88 195.34H197.26M194.88 195.34V198.36M197.26 195.34V198.67M198.76 198.03H199.76M200.76 204.53H201.77M202.77 202.11H203.77M201.27 199.8H203.27M201.27 199.8V204.53M203.27 199.8V202.11M199.26 195.99H202.27M199.26 195.99V198.03M202.27 195.99V199.8M196.07 192.33H200.76M196.07 192.33V195.34M200.76 192.33V195.99M186.62 189.7H198.42M186.62 189.7V193.3M198.42 189.7V192.33M162.83 186.8H192.52M162.83 186.8V191.15M192.52 186.8V189.7M204.77 202.19H205.77M206.77 205.62H207.78M207.28 202.22H208.78M207.28 202.22V205.62M205.27 198.69H208.03M205.27 198.69V202.19M208.03 198.69V202.22M210.78 202.52H211.78M209.78 198.6H211.28M211.28 198.6V202.52M212.78 198.56H213.79M210.53 195.92H213.28M210.53 195.92V198.6M213.28 195.92V198.56M206.65 192.92H211.91M206.65 192.92V198.69M211.91 192.92V195.92M214.79 199.28H215.79M216.79 204.44H217.79M217.29 200.95H218.79M217.29 200.95V204.44M215.29 197.32H218.04M215.29 197.32V199.28M218.04 197.32V200.95M220.8 202.56H221.8M219.79 199.54H221.3M221.3 199.54V202.56M222.8 200.4H223.8M220.55 196.69H223.3M220.55 196.69V199.54M223.3 196.69V200.4M216.67 194.69H221.92M216.67 194.69V197.32M221.92 194.69V196.69M209.28 189.69H219.29M209.28 189.69V192.92M219.29 189.69V194.69M224.8 202.04H225.8M225.3 197.46H226.81M225.3 197.46V202.04M228.81 206.16H229.81M229.31 202.39H230.81M229.31 202.39V206.16M227.81 198.03H230.06M230.06 198.03V202.39M226.05 192.93H228.93M226.05 192.93V197.46M228.93 192.93V198.03M231.81 202.04H232.82M232.31 197.37H233.82M232.31 197.37V202.04M234.82 196.47H235.82M233.07 192.57H235.32M233.07 192.57V197.37M235.32 192.57V196.47M227.49 189.53H234.19M227.49 189.53V192.93M234.19 189.53V192.57M214.29 186.65H230.84M214.29 186.65V189.69M230.84 186.65V189.53M237.82 204.11H238.82M236.82 201.47H238.32M238.32 201.47V204.11M239.83 200.18H240.83M237.57 197.79H240.33M237.57 197.79V201.47M240.33 197.79V200.18M241.83 204.69H242.83M242.33 200.13H243.83M242.33 200.13V204.69M244.83 203.98H245.84M246.84 205.88H247.84M245.34 199.98H247.34M245.34 199.98V203.98M247.34 199.98V205.88M243.08 197.18H246.34M243.08 197.18V200.13M246.34 197.18V199.98M238.95 193.93H244.71M238.95 193.93V197.79M244.71 193.93V197.18M248.84 201.28H249.84M250.84 199.45H251.85M249.34 196.79H251.34M249.34 196.79V201.28M251.34 196.79V199.45M252.85 201.51H253.85M253.35 197.33H254.85M253.35 197.33V201.51M250.34 194.67H254.1M250.34 194.67V196.79M254.1 194.67V197.33M241.83 192.16H252.22M241.83 192.16V193.93M252.22 192.16V194.67M255.85 198.96H256.85M257.85 201.7H258.86M258.36 200.07H259.86M258.36 200.07V201.7M256.35 196.19H259.11M256.35 196.19V198.96M259.11 196.19V200.07M261.86 199.75H262.86M260.86 196.63H262.36M262.36 196.63V199.75M257.73 194.02H261.61M257.73 194.02V196.19M261.61 194.02V196.63M263.86 200.53H264.87M266.87 206.08H267.87M265.87 200.26H267.37M267.37 200.26V206.08M264.37 197.72H266.62M264.37 197.72V200.53M266.62 197.72V200.26M269.87 199.5H270.88M268.87 196.89H270.37M270.37 196.89V199.5M265.49 194.76H269.62M265.49 194.76V197.72M269.62 194.76V196.89M259.67 190.92H267.56M259.67 190.92V194.02M267.56 190.92V194.76M247.03 189.36H263.61M247.03 189.36V192.16M263.61 189.36V190.92M273.88 197.76H274.88M272.88 195.58H274.38M274.38 195.58V197.76M271.88 193.22H273.63M273.63 193.22V195.58M275.88 201.21H276.88M276.38 196.66H277.89M276.38 196.66V201.21M279.89 200.46H280.89M278.89 197.24H280.39M280.39 197.24V200.46M277.14 193.16H279.64M277.14 193.16V196.66M279.64 193.16V197.24M272.75 190.91H278.39M272.75 190.91V193.22M278.39 190.91V193.16M281.89 194.19H282.89M284.9 197.99H285.9M283.9 194.3H285.4M285.4 194.3V197.99M282.39 191.41H284.65M282.39 191.41V194.19M284.65 191.41V194.3M275.57 189.38H283.52M275.57 189.38V190.91M283.52 189.38V191.41M255.32 187.62H279.55M255.32 187.62V189.36M279.55 187.62V189.38M222.56 184.3H267.43M222.56 184.3V186.65M267.43 184.3V187.62M177.67 183H245M177.67 183V186.8M245 183V184.3M143.49 180.8H211.34M143.49 180.8V190M211.34 180.8V183M118.79 173.6H177.41M118.79 173.6V177.3M177.41 173.6V180.8"/>
<path fill="#43aa76" d="M96.1 224h5.01v2.73h-5.01zM102.11 224h9.01v2.73h-9.01zM123.14 224h10.02v2.73h-10.02zM135.16 224h2v2.73h-2zM138.17 224h1v2.73h-1zM143.17 224h3v2.73h-3zM152.19 224h3v2.73h-3zM158.2 224h11.02v2.73h-11.02zM171.22 224h2v2.73h-2zM180.23 224h3v2.73h-3zM186.24 224h1v2.73h-1zM189.25 224h2v2.73h-2zM194.25 224h3v2.73h-3zM206.27 224h6.01v2.73h-6.01zM223.3 224h1v2.73h-1zM227.31 224h13.02v2.73h-13.02zM242.33 224h18.03v2.73h-18.03zM265.37 224h14.02v2.73h-14.02zM281.39 224h1v2.73h-1zM284.4 224h2v2.73h-2zM96.1 226.73h3v2.73h-3zM108.12 226.73h1v2.73h-1zM113.13 226.73h2v2.73h-2zM120.14 226.73h4.01v2.73h-4.01zM132.16 226.73h1v2.73h-1zM144.18 226.73h1v2.73h-1zM146.18 226.73h2v2.73h-2zM150.19 226.73h4.01v2.73h-4.01zM156.19 226.73h2v2.73h-2zM165.21 226.73h7.01v2.73h-7.01zM174.22 226.73h3v2.73h-3zM184.24 226.73h6.01v2.73h-6.01zM191.25 226.73h5.01v2.73h-5.01zM197.26 226.73h2v2.73h-2zM200.26 226.73h7.01v2.73h-7.01zM210.28 226.73h1v2.73h-1zM217.29 226.73h10.02v2.73h-10.02zM228.31 226.73h4.01v2.73h-4.01zM233.32 226.73h2v2.73h-2zM241.33 226.73h5.01v2.73h-5.01zM247.34 226.73h11.02v2.73h-11.02zM261.36 226.73h11.02v2.73h-11.02zM283.4 226.73h2v2.73h-2zM96.1 229.47h2v2.73h-2zM99.1 229.47h1v2.73h-1zM110.12 229.47h1v2.73h-1zM113.13 229.47h2v2.73h-2zM124.14 229.47h3v2.73h-3zM129.15 229.47h4.01v2.73h-4.01zM138.17 229.47h3v2.73h-3zM143.17 229.47h9.01v2.73h-9.01zM179.23 229.47h1v2.73h-1zM183.24 229.47h4.01v2.73h-4.01zM193.25 229.47h8.01v2.73h-8.01zM208.28 229.47h1v2.73h-1zM211.28 229.47h1v2.73h-1zM216.29 229.47h7.01v2.73h-7.01zM224.3 229.47h8.01v2.73h-8.01zM233.32 229.47h7.01v2.73h-7.01zM243.33 229.47h17.03v2.73h-17.03zM262.36 229.47h4.01v2.73h-4.01zM268.37 229.47h1v2.73h-1zM275.38 229.47h1v2.73h-1zM284.4 229.47h2v2.73h-2zM96.1 232.2h3v2.73h-3zM109.12 232.2h1v2.73h-1zM120.14 232.2h1v2.73h-1zM122.14 232.2h3v2.73h-3zM129.15 232.2h1v2.73h-1zM141.17 232.2h4.01v2.73h-4.01zM146.18 232.2h9.01v2.73h-9.01zM156.19 232.2h5.01v2.73h-5.01zM165.21 232.2h4.01v2.73h-4.01zM170.22 232.2h5.01v2.73h-5.01zM186.24 232.2h2v2.73h-2zM190.25 232.2h3v2.73h-3zM202.27 232.2h1v2.73h-1zM204.27 232.2h2v2.73h-2zM216.29 232.2h1v2.73h-1zM220.3 232.2h3v2.73h-3zM227.31 232.2h6.01v2.73h-6.01zM236.32 232.2h5.01v2.73h-5.01zM243.33 232.2h3v2.73h-3zM247.34 232.2h11.02v2.73h-11.02zM264.37 232.2h3v2.73h-3zM273.38 232.2h13.02v2.73h-13.02zM96.1 234.94h3v2.73h-3zM103.11 234.94h1v2.73h-1zM127.15 234.94h2v2.73h-2zM130.15 234.94h2v2.73h-2zM136.16 234.94h2v2.73h-2zM142.17 234.94h1v2.73h-1zM146.18 234.94h2v2.73h-2zM150.19 234.94h4.01v2.73h-4.01zM155.19 234.94h7.01v2.73h-7.01zM167.21 234.94h1v2.73h-1zM171.22 234.94h5.01v2.73h-5.01zM181.23 234.94h3v2.73h-3zM188.25 234.94h5.01v2.73h-5.01zM194.25 234.94h1v2.73h-1zM197.26 234.94h1v2.73h-1zM217.29 234.94h3v2.73h-3zM221.3 234.94h2v2.73h-2zM224.3 234.94h9.01v2.73h-9.01zM234.32 234.94h2v2.73h-2zM243.33 234.94h3v2.73h-3zM249.34 234.94h4.01v2.73h-4.01zM254.35 234.94h5.01v2.73h-5.01zM260.36 234.94h1v2.73h-1zM263.36 234.94h4.01v2.73h-4.01zM275.38 234.94h1v2.73h-1zM280.39 234.94h1v2.73h-1zM284.4 234.94h2v2.73h-2zM96.1 237.67h1v2.73h-1zM98.1 237.67h1v2.73h-1zM104.11 237.67h2v2.73h-2zM111.12 237.67h2v2.73h-2zM119.14 237.67h4.01v2.73h-4.01zM124.14 237.67h1v2.73h-1zM135.16 237.67h3v2.73h-3zM146.18 237.67h5.01v2.73h-5.01zM155.19 237.67h3v2.73h-3zM163.21 237.67h3v2.73h-3zM167.21 237.67h4.01v2.73h-4.01zM173.22 237.67h2v2.73h-2zM178.23 237.67h5.01v2.73h-5.01zM188.25 237.67h1v2.73h-1zM192.25 237.67h2v2.73h-2zM204.27 237.67h3v2.73h-3zM215.29 237.67h7.01v2.73h-7.01zM223.3 237.67h9.01v2.73h-9.01zM238.32 237.67h2v2.73h-2zM241.33 237.67h5.01v2.73h-5.01zM248.34 237.67h6.01v2.73h-6.01zM256.35 237.67h6.01v2.73h-6.01zM266.37 237.67h9.01v2.73h-9.01zM285.4 237.67h1v2.73h-1zM97.1 240.4h3v2.73h-3zM103.11 240.4h1v2.73h-1zM109.12 240.4h1v2.73h-1zM112.13 240.4h1v2.73h-1zM114.13 240.4h1v2.73h-1zM123.14 240.4h5.01v2.73h-5.01zM130.15 240.4h5.01v2.73h-5.01zM138.17 240.4h1v2.73h-1zM144.18 240.4h1v2.73h-1zM148.18 240.4h1v2.73h-1zM150.19 240.4h6.01v2.73h-6.01zM159.2 240.4h2v2.73h-2zM168.21 240.4h5.01v2.73h-5.01zM175.22 240.4h2v2.73h-2zM181.23 240.4h4.01v2.73h-4.01zM187.24 240.4h6.01v2.73h-6.01zM207.28 240.4h4.01v2.73h-4.01zM218.29 240.4h4.01v2.73h-4.01zM225.3 240.4h13.02v2.73h-13.02zM241.33 240.4h16.03v2.73h-16.03zM259.36 240.4h2v2.73h-2zM263.36 240.4h2v2.73h-2zM268.37 240.4h1v2.73h-1zM272.38 240.4h1v2.73h-1zM280.39 240.4h1v2.73h-1zM282.39 240.4h1v2.73h-1zM96.1 243.14h2v2.73h-2zM106.12 243.14h2v2.73h-2zM130.15 243.14h1v2.73h-1zM135.16 243.14h2v2.73h-2zM140.17 243.14h2v2.73h-2zM143.17 243.14h1v2.73h-1zM157.2 243.14h1v2.73h-1zM169.22 243.14h2v2.73h-2zM177.23 243.14h1v2.73h-1zM186.24 243.14h4.01v2.73h-4.01zM217.29 243.14h4.01v2.73h-4.01zM227.31 243.14h4.01v2.73h-4.01zM242.33 243.14h3v2.73h-3zM248.34 243.14h4.01v2.73h-4.01zM257.35 243.14h1v2.73h-1zM259.36 243.14h1v2.73h-1zM262.36 243.14h1v2.73h-1zM264.37 243.14h3v2.73h-3zM268.37 243.14h4.01v2.73h-4.01zM273.38 243.14h1v2.73h-1zM281.39 243.14h5.01v2.73h-5.01zM98.1 245.87h2v2.73h-2zM107.12 245.87h7.01v2.73h-7.01zM125.15 245.87h2v2.73h-2zM128.15 245.87h1v2.73h-1zM135.16 245.87h3v2.73h-3zM146.18 245.87h4.01v2.73h-4.01zM160.2 245.87h5.01v2.73h-5.01zM166.21 245.87h2v2.73h-2zM186.24 245.87h2v2.73h-2zM191.25 245.87h1v2.73h-1zM196.26 245.87h3v2.73h-3zM201.27 245.87h2v2.73h-2zM204.27 245.87h3v2.73h-3zM208.28 245.87h2v2.73h-2zM220.3 245.87h2v2.73h-2zM228.31 245.87h5.01v2.73h-5.01zM236.32 245.87h1v2.73h-1zM241.33 245.87h4.01v2.73h-4.01zM246.34 245.87h6.01v2.73h-6.01zM256.35 245.87h2v2.73h-2zM259.36 245.87h1v2.73h-1zM261.36 245.87h8.01v2.73h-8.01zM270.37 245.87h5.01v2.73h-5.01zM278.39 245.87h1v2.73h-1zM285.4 245.87h1v2.73h-1zM97.1 248.61h1v2.73h-1zM100.11 248.61h2v2.73h-2zM107.12 248.61h3v2.73h-3zM112.13 248.61h1v2.73h-1zM124.14 248.61h2v2.73h-2zM135.16 248.61h1v2.73h-1zM140.17 248.61h2v2.73h-2zM145.18 248.61h5.01v2.73h-5.01zM156.19 248.61h1v2.73h-1zM164.21 248.61h4.01v2.73h-4.01zM169.22 248.61h4.01v2.73h-4.01zM176.23 248.61h3v2.73h-3zM183.24 248.61h1v2.73h-1zM192.25 248.61h4.01v2.73h-4.01zM204.27 248.61h3v2.73h-3zM209.28 248.61h1v2.73h-1zM219.29 248.61h4.01v2.73h-4.01zM224.3 248.61h4.01v2.73h-4.01zM229.31 248.61h2v2.73h-2zM232.31 248.61h1v2.73h-1zM235.32 248.61h1v2.73h-1zM237.32 248.61h9.01v2.73h-9.01zM248.34 248.61h3v2.73h-3zM262.36 248.61h4.01v2.73h-4.01zM268.37 248.61h3v2.73h-3zM277.39 248.61h1v2.73h-1zM283.4 248.61h3v2.73h-3zM97.1 251.34h3v2.73h-3zM107.12 251.34h1v2.73h-1zM111.12 251.34h6.01v2.73h-6.01zM133.16 251.34h2v2.73h-2zM154.19 251.34h4.01v2.73h-4.01zM159.2 251.34h1v2.73h-1zM163.21 251.34h4.01v2.73h-4.01zM171.22 251.34h1v2.73h-1zM176.23 251.34h3v2.73h-3zM191.25 251.34h3v2.73h-3zM200.26 251.34h1v2.73h-1zM202.27 251.34h1v2.73h-1zM206.27 251.34h1v2.73h-1zM230.31 251.34h2v2.73h-2zM238.32 251.34h1v2.73h-1zM248.34 251.34h7.01v2.73h-7.01zM257.35 251.34h2v2.73h-2zM266.37 251.34h5.01v2.73h-5.01zM275.38 251.34h1v2.73h-1zM278.39 251.34h4.01v2.73h-4.01zM96.1 254.07h1v2.73h-1zM107.12 254.07h11.02v2.73h-11.02zM120.14 254.07h1v2.73h-1zM124.14 254.07h1v2.73h-1zM128.15 254.07h11.02v2.73h-11.02zM140.17 254.07h12.02v2.73h-12.02zM153.19 254.07h11.02v2.73h-11.02zM165.21 254.07h43.07v2.73h-43.07zM210.28 254.07h1v2.73h-1zM215.29 254.07h38.06v2.73h-38.06zM254.35 254.07h32.05v2.73h-32.05zM96.1 256.81h1v2.73h-1zM98.1 256.81h13.02v2.73h-13.02zM115.13 256.81h2v2.73h-2zM121.14 256.81h10.02v2.73h-10.02zM132.16 256.81h5.01v2.73h-5.01zM138.17 256.81h1v2.73h-1zM143.17 256.81h64.1v2.73h-64.1zM208.28 256.81h4.01v2.73h-4.01zM213.28 256.81h24.04v2.73h-24.04zM238.32 256.81h48.08v2.73h-48.08zM96.1 259.54h1v2.73h-1zM99.1 259.54h2v2.73h-2zM102.11 259.54h16.03v2.73h-16.03zM119.14 259.54h18.03v2.73h-18.03zM139.17 259.54h12.02v2.73h-12.02zM155.19 259.54h1v2.73h-1zM157.2 259.54h22.03v2.73h-22.03zM183.24 259.54h23.04v2.73h-23.04zM209.28 259.54h3v2.73h-3zM218.29 259.54h23.04v2.73h-23.04zM242.33 259.54h38.06v2.73h-38.06zM281.39 259.54h5.01v2.73h-5.01zM98.1 262.28h2v2.73h-2zM101.11 262.28h4.01v2.73h-4.01zM111.12 262.28h4.01v2.73h-4.01zM120.14 262.28h5.01v2.73h-5.01zM129.15 262.28h1v2.73h-1zM148.18 262.28h7.01v2.73h-7.01zM156.19 262.28h3v2.73h-3zM160.2 262.28h4.01v2.73h-4.01zM167.21 262.28h5.01v2.73h-5.01zM186.24 262.28h4.01v2.73h-4.01zM199.26 262.28h2v2.73h-2zM204.27 262.28h3v2.73h-3zM211.28 262.28h11.02v2.73h-11.02zM225.3 262.28h9.01v2.73h-9.01zM235.32 262.28h29.05v2.73h-29.05zM267.37 262.28h16.03v2.73h-16.03zM285.4 262.28h1v2.73h-1zM98.1 265.01h5.01v2.73h-5.01zM104.11 265.01h5.01v2.73h-5.01zM123.14 265.01h2v2.73h-2zM134.16 265.01h2v2.73h-2zM141.17 265.01h9.01v2.73h-9.01zM152.19 265.01h12.02v2.73h-12.02zM165.21 265.01h1v2.73h-1zM171.22 265.01h4.01v2.73h-4.01zM176.23 265.01h1v2.73h-1zM178.23 265.01h2v2.73h-2zM182.24 265.01h2v2.73h-2zM186.24 265.01h12.02v2.73h-12.02zM199.26 265.01h1v2.73h-1zM216.29 265.01h1v2.73h-1zM220.3 265.01h17.03v2.73h-17.03zM240.33 265.01h6.01v2.73h-6.01zM248.34 265.01h5.01v2.73h-5.01zM254.35 265.01h4.01v2.73h-4.01zM263.36 265.01h8.01v2.73h-8.01zM273.38 265.01h1v2.73h-1zM278.39 265.01h8.01v2.73h-8.01zM96.1 267.75h6.01v2.73h-6.01zM104.11 267.75h11.02v2.73h-11.02zM118.13 267.75h1v2.73h-1zM127.15 267.75h1v2.73h-1zM134.16 267.75h1v2.73h-1zM139.17 267.75h2v2.73h-2zM144.18 267.75h3v2.73h-3zM154.19 267.75h7.01v2.73h-7.01zM167.21 267.75h2v2.73h-2zM171.22 267.75h2v2.73h-2zM178.23 267.75h2v2.73h-2zM182.24 267.75h2v2.73h-2zM188.25 267.75h14.02v2.73h-14.02zM204.27 267.75h9.01v2.73h-9.01zM216.29 267.75h4.01v2.73h-4.01zM221.3 267.75h1v2.73h-1zM226.31 267.75h7.01v2.73h-7.01zM234.32 267.75h6.01v2.73h-6.01zM244.33 267.75h2v2.73h-2zM248.34 267.75h14.02v2.73h-14.02zM263.36 267.75h13.02v2.73h-13.02zM277.39 267.75h5.01v2.73h-5.01zM284.4 267.75h2v2.73h-2zM126.15 270.48h3v2.73h-3zM144.18 270.48h2v2.73h-2zM154.19 270.48h1v2.73h-1zM156.19 270.48h2v2.73h-2zM159.2 270.48h4.01v2.73h-4.01zM164.21 270.48h2v2.73h-2zM168.21 270.48h3v2.73h-3zM181.23 270.48h4.01v2.73h-4.01zM186.24 270.48h2v2.73h-2zM190.25 270.48h2v2.73h-2zM195.26 270.48h1v2.73h-1zM197.26 270.48h5.01v2.73h-5.01zM205.27 270.48h1v2.73h-1zM210.28 270.48h5.01v2.73h-5.01zM216.29 270.48h2v2.73h-2zM219.29 270.48h7.01v2.73h-7.01zM231.31 270.48h11.02v2.73h-11.02zM243.33 270.48h1v2.73h-1zM245.34 270.48h7.01v2.73h-7.01zM254.35 270.48h8.01v2.73h-8.01zM265.37 270.48h3v2.73h-3zM274.38 270.48h2v2.73h-2zM278.39 270.48h2v2.73h-2zM281.39 270.48h4.01v2.73h-4.01zM99.1 273.21h1v2.73h-1zM101.11 273.21h4.01v2.73h-4.01zM111.12 273.21h2v2.73h-2zM122.14 273.21h4.01v2.73h-4.01zM129.15 273.21h5.01v2.73h-5.01zM136.16 273.21h2v2.73h-2zM145.18 273.21h9.01v2.73h-9.01zM157.2 273.21h6.01v2.73h-6.01zM164.21 273.21h6.01v2.73h-6.01zM171.22 273.21h1v2.73h-1zM173.22 273.21h2v2.73h-2zM177.23 273.21h2v2.73h-2zM181.23 273.21h12.02v2.73h-12.02zM201.27 273.21h2v2.73h-2zM205.27 273.21h2v2.73h-2zM209.28 273.21h6.01v2.73h-6.01zM218.29 273.21h14.02v2.73h-14.02zM236.32 273.21h22.03v2.73h-22.03zM261.36 273.21h18.03v2.73h-18.03zM280.39 273.21h6.01v2.73h-6.01z"/>
<path fill="#3a76b6" d="M98.1 275.95h1v2.73h-1zM100.11 275.95h11.02v2.73h-11.02zM112.13 275.95h8.01v2.73h-8.01zM122.14 275.95h2v2.73h-2zM125.15 275.95h2v2.73h-2zM128.15 275.95h9.01v2.73h-9.01zM139.17 275.95h1v2.73h-1zM141.17 275.95h22.03v2.73h-22.03zM164.21 275.95h2v2.73h-2zM171.22 275.95h4.01v2.73h-4.01zM176.23 275.95h1v2.73h-1zM178.23 275.95h1v2.73h-1zM180.23 275.95h1v2.73h-1zM185.24 275.95h1v2.73h-1zM203.27 275.95h1v2.73h-1zM208.28 275.95h1v2.73h-1zM215.29 275.95h2v2.73h-2zM220.3 275.95h1v2.73h-1zM224.3 275.95h3v2.73h-3zM231.31 275.95h2v2.73h-2zM236.32 275.95h1v2.73h-1zM239.33 275.95h1v2.73h-1zM244.33 275.95h1v2.73h-1zM247.34 275.95h1v2.73h-1zM250.34 275.95h1v2.73h-1zM258.36 275.95h1v2.73h-1zM260.36 275.95h1v2.73h-1zM262.36 275.95h3v2.73h-3zM274.38 275.95h2v2.73h-2zM280.39 275.95h1v2.73h-1zM283.4 275.95h1v2.73h-1zM96.1 278.68h8.01v2.73h-8.01zM105.11 278.68h2v2.73h-2zM108.12 278.68h12.02v2.73h-12.02zM121.14 278.68h1v2.73h-1zM127.15 278.68h4.01v2.73h-4.01zM133.16 278.68h6.01v2.73h-6.01zM141.17 278.68h10.02v2.73h-10.02zM154.19 278.68h3v2.73h-3zM158.2 278.68h2v2.73h-2zM161.2 278.68h6.01v2.73h-6.01zM170.22 278.68h3v2.73h-3zM177.23 278.68h1v2.73h-1zM192.25 278.68h1v2.73h-1zM208.28 278.68h1v2.73h-1zM213.28 278.68h2v2.73h-2zM225.3 278.68h1v2.73h-1zM229.31 278.68h1v2.73h-1zM231.31 278.68h1v2.73h-1zM235.32 278.68h1v2.73h-1zM238.32 278.68h2v2.73h-2zM249.34 278.68h2v2.73h-2zM258.36 278.68h1v2.73h-1zM260.36 278.68h1v2.73h-1zM264.37 278.68h1v2.73h-1zM267.37 278.68h1v2.73h-1zM274.38 278.68h1v2.73h-1zM278.39 278.68h1v2.73h-1zM96.1 281.42h1v2.73h-1zM98.1 281.42h1v2.73h-1zM101.11 281.42h8.01v2.73h-8.01zM110.12 281.42h1v2.73h-1zM113.13 281.42h2v2.73h-2zM116.13 281.42h2v2.73h-2zM122.14 281.42h4.01v2.73h-4.01zM127.15 281.42h6.01v2.73h-6.01zM136.16 281.42h3v2.73h-3zM142.17 281.42h7.01v2.73h-7.01zM150.19 281.42h8.01v2.73h-8.01zM161.2 281.42h3v2.73h-3zM167.21 281.42h1v2.73h-1zM169.22 281.42h1v2.73h-1zM172.22 281.42h1v2.73h-1zM175.22 281.42h1v2.73h-1zM178.23 281.42h1v2.73h-1zM183.24 281.42h1v2.73h-1zM189.25 281.42h1v2.73h-1zM194.25 281.42h1v2.73h-1zM197.26 281.42h1v2.73h-1zM237.32 281.42h1v2.73h-1zM239.33 281.42h1v2.73h-1zM255.35 281.42h2v2.73h-2zM262.36 281.42h2v2.73h-2zM274.38 281.42h1v2.73h-1zM277.39 281.42h1v2.73h-1zM283.4 281.42h1v2.73h-1zM101.11 284.15h1v2.73h-1zM107.12 284.15h8.01v2.73h-8.01zM116.13 284.15h3v2.73h-3zM128.15 284.15h2v2.73h-2zM131.16 284.15h1v2.73h-1zM133.16 284.15h4.01v2.73h-4.01zM138.17 284.15h1v2.73h-1zM140.17 284.15h1v2.73h-1zM148.18 284.15h2v2.73h-2zM151.19 284.15h2v2.73h-2zM155.19 284.15h1v2.73h-1zM160.2 284.15h3v2.73h-3zM179.23 284.15h1v2.73h-1zM208.28 284.15h1v2.73h-1zM224.3 284.15h2v2.73h-2zM235.32 284.15h1v2.73h-1zM237.32 284.15h1v2.73h-1zM250.34 284.15h1v2.73h-1zM264.37 284.15h1v2.73h-1zM268.37 284.15h1v2.73h-1zM96.1 286.88h6.01v2.73h-6.01zM103.11 286.88h1v2.73h-1zM108.12 286.88h8.01v2.73h-8.01zM119.14 286.88h6.01v2.73h-6.01zM129.15 286.88h2v2.73h-2zM133.16 286.88h1v2.73h-1zM135.16 286.88h1v2.73h-1zM137.16 286.88h1v2.73h-1zM140.17 286.88h4.01v2.73h-4.01zM145.18 286.88h2v2.73h-2zM156.19 286.88h1v2.73h-1zM159.2 286.88h2v2.73h-2zM180.23 286.88h1v2.73h-1zM193.25 286.88h1v2.73h-1zM216.29 286.88h1v2.73h-1zM231.31 286.88h1v2.73h-1zM241.33 286.88h1v2.73h-1zM257.35 286.88h1v2.73h-1zM263.36 286.88h1v2.73h-1zM275.38 286.88h1v2.73h-1zM96.1 289.62h3v2.73h-3zM100.11 289.62h4.01v2.73h-4.01zM107.12 289.62h1v2.73h-1zM109.12 289.62h1v2.73h-1zM111.12 289.62h5.01v2.73h-5.01zM118.13 289.62h1v2.73h-1zM123.14 289.62h2v2.73h-2zM127.15 289.62h4.01v2.73h-4.01zM133.16 289.62h2v2.73h-2zM140.17 289.62h2v2.73h-2zM143.17 289.62h8.01v2.73h-8.01zM185.24 289.62h1v2.73h-1zM225.3 289.62h1v2.73h-1zM231.31 289.62h1v2.73h-1zM256.35 289.62h1v2.73h-1zM264.37 289.62h1v2.73h-1zM96.1 292.35h1v2.73h-1zM99.1 292.35h3v2.73h-3zM104.11 292.35h2v2.73h-2zM107.12 292.35h12.02v2.73h-12.02zM120.14 292.35h1v2.73h-1zM122.14 292.35h2v2.73h-2zM125.15 292.35h8.01v2.73h-8.01zM140.17 292.35h2v2.73h-2zM146.18 292.35h7.01v2.73h-7.01zM157.2 292.35h2v2.73h-2zM169.22 292.35h1v2.73h-1zM208.28 292.35h1v2.73h-1zM224.3 292.35h1v2.73h-1zM247.34 292.35h1v2.73h-1zM249.34 292.35h2v2.73h-2zM252.35 292.35h1v2.73h-1zM258.36 292.35h1v2.73h-1zM275.38 292.35h1v2.73h-1zM96.1 295.09h2v2.73h-2zM99.1 295.09h2v2.73h-2zM103.11 295.09h20.03v2.73h-20.03zM126.15 295.09h1v2.73h-1zM129.15 295.09h1v2.73h-1zM131.16 295.09h16.03v2.73h-16.03zM154.19 295.09h3v2.73h-3zM185.24 295.09h1v2.73h-1zM217.29 295.09h1v2.73h-1zM235.32 295.09h1v2.73h-1zM252.35 295.09h1v2.73h-1zM98.1 297.82h2v2.73h-2zM106.12 297.82h8.01v2.73h-8.01zM117.13 297.82h3v2.73h-3zM122.14 297.82h2v2.73h-2zM125.15 297.82h6.01v2.73h-6.01zM133.16 297.82h5.01v2.73h-5.01zM145.18 297.82h2v2.73h-2zM155.19 297.82h1v2.73h-1zM160.2 297.82h1v2.73h-1zM225.3 297.82h1v2.73h-1zM231.31 297.82h2v2.73h-2zM242.33 297.82h1v2.73h-1zM256.35 297.82h1v2.73h-1zM263.36 297.82h1v2.73h-1zM275.38 297.82h1v2.73h-1zM97.1 300.55h6.01v2.73h-6.01zM106.12 300.55h6.01v2.73h-6.01zM113.13 300.55h7.01v2.73h-7.01zM122.14 300.55h2v2.73h-2zM126.15 300.55h1v2.73h-1zM133.16 300.55h1v2.73h-1zM135.16 300.55h1v2.73h-1zM144.18 300.55h3v2.73h-3zM154.19 300.55h1v2.73h-1zM158.2 300.55h1v2.73h-1zM169.22 300.55h1v2.73h-1zM178.23 300.55h1v2.73h-1zM185.24 300.55h1v2.73h-1zM222.3 300.55h1v2.73h-1zM275.38 300.55h1v2.73h-1zM279.39 300.55h2v2.73h-2zM283.4 300.55h1v2.73h-1zM97.1 303.29h2v2.73h-2zM102.11 303.29h2v2.73h-2zM109.12 303.29h2v2.73h-2zM113.13 303.29h2v2.73h-2zM116.13 303.29h2v2.73h-2zM125.15 303.29h1v2.73h-1zM127.15 303.29h1v2.73h-1zM129.15 303.29h2v2.73h-2zM145.18 303.29h4.01v2.73h-4.01zM150.19 303.29h2v2.73h-2zM154.19 303.29h1v2.73h-1zM157.2 303.29h1v2.73h-1zM159.2 303.29h2v2.73h-2zM165.21 303.29h1v2.73h-1zM171.22 303.29h1v2.73h-1zM180.23 303.29h1v2.73h-1zM225.3 303.29h1v2.73h-1zM239.33 303.29h1v2.73h-1zM250.34 303.29h1v2.73h-1zM274.38 303.29h1v2.73h-1zM98.1 306.02h2v2.73h-2zM101.11 306.02h1v2.73h-1zM103.11 306.02h2v2.73h-2zM112.13 306.02h4.01v2.73h-4.01zM118.13 306.02h1v2.73h-1zM120.14 306.02h1v2.73h-1zM125.15 306.02h1v2.73h-1zM129.15 306.02h2v2.73h-2zM133.16 306.02h5.01v2.73h-5.01zM140.17 306.02h1v2.73h-1zM142.17 306.02h2v2.73h-2zM145.18 306.02h1v2.73h-1zM150.19 306.02h3v2.73h-3zM155.19 306.02h2v2.73h-2zM159.2 306.02h1v2.73h-1zM178.23 306.02h2v2.73h-2zM186.24 306.02h1v2.73h-1zM192.25 306.02h1v2.73h-1zM209.28 306.02h1v2.73h-1zM215.29 306.02h1v2.73h-1zM236.32 306.02h1v2.73h-1zM96.1 308.76h6.01v2.73h-6.01zM106.12 308.76h2v2.73h-2zM110.12 308.76h1v2.73h-1zM112.13 308.76h6.01v2.73h-6.01zM120.14 308.76h3v2.73h-3zM124.14 308.76h1v2.73h-1zM127.15 308.76h3v2.73h-3zM131.16 308.76h1v2.73h-1zM136.16 308.76h2v2.73h-2zM140.17 308.76h1v2.73h-1zM142.17 308.76h3v2.73h-3zM147.18 308.76h1v2.73h-1zM152.19 308.76h3v2.73h-3zM161.2 308.76h2v2.73h-2zM207.28 308.76h2v2.73h-2zM220.3 308.76h1v2.73h-1zM225.3 308.76h1v2.73h-1zM236.32 308.76h1v2.73h-1zM247.34 308.76h1v2.73h-1zM274.38 308.76h1v2.73h-1zM100.11 311.49h2v2.73h-2zM104.11 311.49h2v2.73h-2zM117.13 311.49h4.01v2.73h-4.01zM126.15 311.49h4.01v2.73h-4.01zM131.16 311.49h4.01v2.73h-4.01zM153.19 311.49h2v2.73h-2zM166.21 311.49h1v2.73h-1zM199.26 311.49h1v2.73h-1zM214.29 311.49h1v2.73h-1zM225.3 311.49h1v2.73h-1zM240.33 311.49h1v2.73h-1zM250.34 311.49h1v2.73h-1zM257.35 311.49h1v2.73h-1zM264.37 311.49h1v2.73h-1zM274.38 311.49h1v2.73h-1zM282.39 311.49h1v2.73h-1zM128.15 314.23h2v2.73h-2zM134.16 314.23h3v2.73h-3zM145.18 314.23h1v2.73h-1zM150.19 314.23h1v2.73h-1zM154.19 314.23h1v2.73h-1zM161.2 314.23h1v2.73h-1zM173.22 314.23h1v2.73h-1zM225.3 314.23h1v2.73h-1zM239.33 314.23h1v2.73h-1zM247.34 314.23h1v2.73h-1zM264.37 314.23h1v2.73h-1zM267.37 314.23h1v2.73h-1zM274.38 314.23h1v2.73h-1zM280.39 314.23h1v2.73h-1zM114.13 316.96h2v2.73h-2zM119.14 316.96h1v2.73h-1zM131.16 316.96h1v2.73h-1zM164.21 316.96h1v2.73h-1zM176.23 316.96h1v2.73h-1zM180.23 316.96h1v2.73h-1zM210.28 316.96h1v2.73h-1zM231.31 316.96h1v2.73h-1zM277.39 316.96h1v2.73h-1zM100.11 319.69h2v2.73h-2zM116.13 319.69h4.01v2.73h-4.01zM143.17 319.69h2v2.73h-2zM154.19 319.69h1v2.73h-1zM203.27 319.69h1v2.73h-1zM208.28 319.69h1v2.73h-1zM241.33 319.69h1v2.73h-1zM97.1 322.43h1v2.73h-1zM102.11 322.43h1v2.73h-1zM104.11 322.43h7.01v2.73h-7.01zM112.13 322.43h2v2.73h-2zM116.13 322.43h2v2.73h-2zM121.14 322.43h2v2.73h-2zM126.15 322.43h5.01v2.73h-5.01zM132.16 322.43h1v2.73h-1zM146.18 322.43h1v2.73h-1zM159.2 322.43h1v2.73h-1zM187.24 322.43h1v2.73h-1zM245.34 322.43h1v2.73h-1zM280.39 322.43h1v2.73h-1zM101.11 325.16h5.01v2.73h-5.01zM108.12 325.16h1v2.73h-1zM113.13 325.16h1v2.73h-1zM115.13 325.16h1v2.73h-1zM118.13 325.16h1v2.73h-1zM121.14 325.16h1v2.73h-1zM123.14 325.16h2v2.73h-2zM127.15 325.16h7.01v2.73h-7.01zM140.17 325.16h3v2.73h-3zM160.2 325.16h1v2.73h-1zM218.29 325.16h1v2.73h-1zM226.31 325.16h1v2.73h-1zM239.33 325.16h1v2.73h-1zM263.36 325.16h1v2.73h-1zM271.38 325.16h2v2.73h-2zM283.4 325.16h1v2.73h-1zM96.1 327.9h2v2.73h-2zM100.11 327.9h2v2.73h-2zM104.11 327.9h4.01v2.73h-4.01zM110.12 327.9h3v2.73h-3zM115.13 327.9h1v2.73h-1zM120.14 327.9h1v2.73h-1zM122.14 327.9h1v2.73h-1zM124.14 327.9h3v2.73h-3zM130.15 327.9h1v2.73h-1zM133.16 327.9h2v2.73h-2zM136.16 327.9h1v2.73h-1zM143.17 327.9h1v2.73h-1zM243.33 327.9h1v2.73h-1zM258.36 327.9h2v2.73h-2zM263.36 327.9h1v2.73h-1zM275.38 327.9h1v2.73h-1zM101.11 330.63h3v2.73h-3zM109.12 330.63h2v2.73h-2zM112.13 330.63h8.01v2.73h-8.01zM128.15 330.63h3v2.73h-3zM136.16 330.63h2v2.73h-2zM144.18 330.63h1v2.73h-1zM180.23 330.63h1v2.73h-1zM206.27 330.63h1v2.73h-1zM225.3 330.63h1v2.73h-1zM231.31 330.63h1v2.73h-1zM247.34 330.63h1v2.73h-1zM259.36 330.63h1v2.73h-1zM264.37 330.63h1v2.73h-1zM96.1 333.36h7.01v2.73h-7.01zM104.11 333.36h5.01v2.73h-5.01zM112.13 333.36h3v2.73h-3zM117.13 333.36h1v2.73h-1zM121.14 333.36h1v2.73h-1zM123.14 333.36h1v2.73h-1zM129.15 333.36h1v2.73h-1zM136.16 333.36h1v2.73h-1zM138.17 333.36h1v2.73h-1zM169.22 333.36h1v2.73h-1zM245.34 333.36h1v2.73h-1zM258.36 333.36h1v2.73h-1zM278.39 333.36h1v2.73h-1zM97.1 336.1h3v2.73h-3zM103.11 336.1h2v2.73h-2zM106.12 336.1h2v2.73h-2zM109.12 336.1h7.01v2.73h-7.01zM119.14 336.1h1v2.73h-1zM127.15 336.1h1v2.73h-1zM132.16 336.1h1v2.73h-1zM160.2 336.1h1v2.73h-1zM172.22 336.1h1v2.73h-1zM174.22 336.1h1v2.73h-1zM206.27 336.1h1v2.73h-1zM242.33 336.1h1v2.73h-1zM252.35 336.1h1v2.73h-1zM99.1 338.83h3v2.73h-3zM108.12 338.83h2v2.73h-2zM111.12 338.83h1v2.73h-1zM116.13 338.83h1v2.73h-1zM121.14 338.83h2v2.73h-2zM127.15 338.83h1v2.73h-1zM131.16 338.83h1v2.73h-1zM133.16 338.83h3v2.73h-3zM144.18 338.83h1v2.73h-1zM154.19 338.83h1v2.73h-1zM162.2 338.83h1v2.73h-1zM180.23 338.83h1v2.73h-1zM193.25 338.83h1v2.73h-1zM215.29 338.83h1v2.73h-1zM234.32 338.83h1v2.73h-1zM242.33 338.83h1v2.73h-1zM96.1 341.57h1v2.73h-1zM99.1 341.57h1v2.73h-1zM102.11 341.57h4.01v2.73h-4.01zM108.12 341.57h2v2.73h-2zM111.12 341.57h5.01v2.73h-5.01zM117.13 341.57h2v2.73h-2zM120.14 341.57h1v2.73h-1zM123.14 341.57h1v2.73h-1zM128.15 341.57h4.01v2.73h-4.01zM138.17 341.57h2v2.73h-2zM141.17 341.57h2v2.73h-2zM145.18 341.57h1v2.73h-1zM147.18 341.57h1v2.73h-1zM158.2 341.57h1v2.73h-1zM203.27 341.57h1v2.73h-1zM225.3 341.57h1v2.73h-1zM277.39 341.57h1v2.73h-1z"/>
<path fill="none" stroke="#777" stroke-width="0.5" d="M63.11 225.37V228.1M63.11 225.37H95.3M63.11 228.1H95.3M70.42 230.84V233.57M70.42 230.84H95.3M70.42 233.57H95.3M63.69 232.2V236.3M63.69 232.2H70.42M63.69 236.3H95.3M60.11 226.73V234.25M60.11 226.73H63.11M60.11 234.25H63.69M68.88 239.04V241.77M68.88 239.04H95.3M68.88 241.77H95.3M66.89 244.51V247.24M66.89 244.51H95.3M66.89 247.24H95.3M63.97 240.4V245.87M63.97 240.4H68.88M63.97 245.87H66.89M73.6 249.97V252.71M73.6 249.97H95.3M73.6 252.71H95.3M69.08 251.34V255.44M69.08 251.34H73.6M69.08 255.44H95.3M67.92 258.18V260.91M67.92 258.18H95.3M67.92 260.91H95.3M65.47 253.39V259.54M65.47 253.39H69.08M65.47 259.54H67.92M61.23 243.14V256.47M61.23 243.14H63.97M61.23 256.47H65.47M57.8 230.49V249.8M57.8 230.49H60.11M57.8 249.8H61.23M61.84 263.64V266.38M61.84 263.64H95.3M61.84 266.38H95.3M68.61 271.85V274.58M68.61 271.85H95.3M68.61 274.58H95.3M62.78 269.11V273.21M62.78 269.11H95.3M62.78 273.21H68.61M58.5 265.01V271.16M58.5 265.01H61.84M58.5 271.16H62.78M52 240.15V268.09M52 240.15H57.8M52 268.09H58.5M72 277.31V280.05M72 277.31H95.3M72 280.05H95.3M67.39 282.78V285.52M67.39 282.78H95.3M67.39 285.52H95.3M71.34 288.25V290.99M71.34 288.25H95.3M71.34 290.99H95.3M69.15 289.62V293.72M69.15 289.62H71.34M69.15 293.72H95.3M73.18 296.45V299.19M73.18 296.45H95.3M73.18 299.19H95.3M90.98 310.12V312.86M90.98 310.12H95.3M90.98 312.86H95.3M90.71 315.59V318.33M90.71 315.59H95.3M90.71 318.33H95.3M88.76 311.49V316.96M88.76 311.49H90.98M88.76 316.96H90.71M91 323.79V326.53M91 323.79H95.3M91 326.53H95.3M89.58 321.06V325.16M89.58 321.06H95.3M89.58 325.16H91M85.34 314.23V323.11M85.34 314.23H88.76M85.34 323.11H89.58M91 329.26V332M91 329.26H95.3M91 332H95.3M91 334.73V337.46M91 334.73H95.3M91 337.46H95.3M88.71 330.63V336.1M88.71 330.63H91M88.71 336.1H91M90.2 340.2V342.93M90.2 340.2H95.3M90.2 342.93H95.3M85.98 333.36V341.57M85.98 333.36H88.71M85.98 341.57H90.2M81.56 318.67V337.46M81.56 318.67H85.34M81.56 337.46H85.98M80.13 307.39V328.07M80.13 307.39H95.3M80.13 328.07H81.56M77.37 304.66V317.73M77.37 304.66H95.3M77.37 317.73H80.13M74.16 301.92V311.19M74.16 301.92H95.3M74.16 311.19H77.37M68.91 297.82V306.56M68.91 297.82H73.18M68.91 306.56H74.16M66.9 291.67V302.19M66.9 291.67H69.15M66.9 302.19H68.91M64.7 284.15V296.93M64.7 284.15H67.39M64.7 296.93H66.9M60.6 278.68V290.54M60.6 278.68H72M60.6 290.54H64.7M52 254.12H22.4V284.61H60.6"/>
<path fill="#43aa76" d="M291.9 224.35h22.6v2.03h-22.6zM291.9 227.08h17.9v2.03h-17.9zM291.9 229.82h19.7v2.03h-19.7zM291.9 232.55h15.9v2.03h-15.9zM291.9 235.29h25.1v2.03h-25.1zM291.9 238.02h20.1v2.03h-20.1zM291.9 240.75h20.5v2.03h-20.5zM291.9 243.49h17.1v2.03h-17.1zM291.9 246.22h15v2.03h-15zM291.9 248.96h10.7v2.03h-10.7zM291.9 251.69h17.6v2.03h-17.6zM291.9 254.42h21v2.03h-21zM291.9 257.16h41.6v2.03h-41.6zM291.9 259.89h35.6v2.03h-35.6zM291.9 262.63h26.9v2.03h-26.9zM291.9 265.36h26.5v2.03h-26.5zM291.9 268.1h26.5v2.03h-26.5zM291.9 270.83h26.2v2.03h-26.2zM291.9 273.56h26.9v2.03h-26.9z"/>
<path fill="#3a76b6" d="M291.9 276.3h16.7v2.03h-16.7zM291.9 279.03h15.2v2.03h-15.2zM291.9 281.77h19.9v2.03h-19.9zM291.9 284.5h15.6v2.03h-15.6zM291.9 287.23h10v2.03h-10zM291.9 289.97h11v2.03h-11zM291.9 292.7h10v2.03h-10zM291.9 295.44h12.7v2.03h-12.7zM291.9 298.17h10v2.03h-10zM291.9 300.9h9v2.03h-9zM291.9 303.64h10v2.03h-10zM291.9 306.37h6.8v2.03h-6.8zM291.9 309.11h10v2.03h-10zM291.9 311.84h4.7v2.03h-4.7zM291.9 314.58h1.5v2.03h-1.5zM291.9 317.31h3.2v2.03h-3.2zM291.9 320.04h3.6v2.03h-3.6zM291.9 322.78h4.7v2.03h-4.7zM291.9 325.51h5.6v2.03h-5.6zM291.9 328.25h6.8v2.03h-6.8zM291.9 330.98h6.8v2.03h-6.8zM291.9 333.71h5.3v2.03h-5.3zM291.9 336.45h6.2v2.03h-6.2zM291.9 339.18h5.3v2.03h-5.3zM291.9 341.92h5.6v2.03h-5.6z"/>
<g stroke="#888" stroke-width="0.4"><line x1="292.1" y1="219.1" x2="328.6" y2="219.1"/>
<line x1="292.2" y1="217.4" x2="292.2" y2="219.1"/>
<line x1="299.45" y1="217.4" x2="299.45" y2="219.1"/>
<line x1="306.7" y1="217.4" x2="306.7" y2="219.1"/>
<line x1="313.95" y1="217.4" x2="313.95" y2="219.1"/>
<line x1="321.2" y1="217.4" x2="321.2" y2="219.1"/>
<line x1="328.45" y1="217.4" x2="328.45" y2="219.1"/>
</g>
<g font-size="3.2" fill="#333">
<text transform="translate(293.2,215.6) rotate(-90)">0</text>
<text transform="translate(300.45,215.6) rotate(-90)">20</text>
<text transform="translate(307.7,215.6) rotate(-90)">40</text>
<text transform="translate(314.95,215.6) rotate(-90)">60</text>
<text transform="translate(322.2,215.6) rotate(-90)">80</text>
<text transform="translate(329.45,215.6) rotate(-90)">100</text>
</g>
<text x="290.9" y="194.3" font-size="8.8" text-anchor="start" fill="#000">Activity per</text>
<text x="290.9" y="203.9" font-size="8.8" text-anchor="start" fill="#000">hotspot</text>
<path fill="rgb(0,0,0)" d="M96.1 344.3h1v10h-1zM97.1 344.3h1v10h-1zM99.1 344.3h1v10h-1zM100.11 344.3h1v10h-1zM101.11 344.3h1v10h-1zM102.11 344.3h1v10h-1zM103.11 344.3h1v10h-1zM104.11 344.3h1v10h-1zM106.12 344.3h1v10h-1zM107.12 344.3h1v10h-1zM108.12 344.3h1v10h-1zM109.12 344.3h1v10h-1zM110.12 344.3h1v10h-1zM111.12 344.3h1v10h-1zM113.13 344.3h1v10h-1zM114.13 344.3h1v10h-1zM117.13 344.3h1v10h-1zM119.14 344.3h1v10h-1zM120.14 344.3h1v10h-1zM122.14 344.3h1v10h-1zM124.14 344.3h1v10h-1zM125.15 344.3h1v10h-1zM126.15 344.3h1v10h-1zM127.15 344.3h1v10h-1zM128.15 344.3h1v10h-1zM129.15 344.3h1v10h-1zM131.16 344.3h1v10h-1zM133.16 344.3h1v10h-1zM136.16 344.3h1v10h-1zM137.16 344.3h1v10h-1zM138.17 344.3h1v10h-1zM140.17 344.3h1v10h-1zM144.18 344.3h1v10h-1zM147.18 344.3h1v10h-1zM151.19 344.3h1v10h-1zM152.19 344.3h1v10h-1zM155.19 344.3h1v10h-1zM158.2 344.3h1v10h-1zM160.2 344.3h1v10h-1zM161.2 344.3h1v10h-1zM164.21 344.3h1v10h-1zM165.21 344.3h1v10h-1zM166.21 344.3h1v10h-1zM170.22 344.3h1v10h-1zM172.22 344.3h1v10h-1zM173.22 344.3h1v10h-1zM174.22 344.3h1v10h-1zM177.23 344.3h1v10h-1zM179.23 344.3h1v10h-1zM180.23 344.3h1v10h-1zM182.24 344.3h1v10h-1zM184.24 344.3h1v10h-1zM186.24 344.3h1v10h-1zM187.24 344.3h1v10h-1zM191.25 344.3h1v10h-1zM193.25 344.3h1v10h-1zM198.26 344.3h1v10h-1zM200.26 344.3h1v10h-1zM205.27 344.3h1v10h-1zM207.28 344.3h1v10h-1zM208.28 344.3h1v10h-1zM209.28 344.3h1v10h-1zM211.28 344.3h1v10h-1zM212.28 344.3h1v10h-1zM215.29 344.3h1v10h-1zM217.29 344.3h1v10h-1zM220.3 344.3h1v10h-1zM223.3 344.3h1v10h-1zM227.31 344.3h1v10h-1zM229.31 344.3h1v10h-1zM230.31 344.3h1v10h-1zM232.31 344.3h1v10h-1zM235.32 344.3h1v10h-1zM236.32 344.3h1v10h-1zM237.32 344.3h1v10h-1zM238.32 344.3h1v10h-1zM241.33 344.3h1v10h-1zM243.33 344.3h1v10h-1zM245.34 344.3h1v10h-1zM249.34 344.3h1v10h-1zM251.34 344.3h1v10h-1zM252.35 344.3h1v10h-1zM254.35 344.3h1v10h-1zM256.35 344.3h1v10h-1zM258.36 344.3h1v10h-1zM259.36 344.3h1v10h-1zM260.36 344.3h1v10h-1zM261.36 344.3h1v10h-1zM262.36 344.3h1v10h-1zM263.36 344.3h1v10h-1zM266.37 344.3h1v10h-1zM267.37 344.3h1v10h-1zM269.37 344.3h1v10h-1zM271.38 344.3h1v10h-1zM273.38 344.3h1v10h-1zM275.38 344.3h1v10h-1zM276.38 344.3h1v10h-1zM278.39 344.3h1v10h-1zM281.39 344.3h1v10h-1zM282.39 344.3h1v10h-1zM285.4 344.3h1v10h-1z"/>
<path fill="rgb(60,60,60)" d="M98.1 344.3h1v10h-1zM115.13 344.3h1v10h-1zM134.16 344.3h1v10h-1zM142.17 344.3h1v10h-1zM171.22 344.3h1v10h-1zM178.23 344.3h1v10h-1zM213.28 344.3h1v10h-1zM242.33 344.3h1v10h-1zM274.38 344.3h1v10h-1z"/>
<path fill="rgb(100,100,100)" d="M105.11 344.3h1v10h-1zM116.13 344.3h1v10h-1zM118.13 344.3h1v10h-1zM135.16 344.3h1v10h-1zM149.18 344.3h1v10h-1zM248.34 344.3h1v10h-1zM250.34 344.3h1v10h-1zM284.4 344.3h1v10h-1z"/>
<path fill="rgb(140,140,140)" d="M121.14 344.3h1v10h-1zM132.16 344.3h1v10h-1zM150.19 344.3h1v10h-1zM159.2 344.3h1v10h-1z"/>
<path fill="rgb(170,170,170)" d="M123.14 344.3h1v10h-1zM163.21 344.3h1v10h-1zM181.23 344.3h1v10h-1zM185.24 344.3h1v10h-1zM201.27 344.3h1v10h-1zM280.39 344.3h1v10h-1z"/>
<path fill="rgb(200,200,200)" d="M145.18 344.3h1v10h-1zM146.18 344.3h1v10h-1zM196.26 344.3h1v10h-1zM221.3 344.3h1v10h-1zM253.35 344.3h1v10h-1z"/>
<path fill="rgb(0,0,0)" d="M97.1 354.3h1v10.2h-1zM101.11 354.3h1v10.2h-1zM102.11 354.3h1v10.2h-1zM135.16 354.3h1v10.2h-1zM139.17 354.3h1v10.2h-1zM141.17 354.3h1v10.2h-1zM142.17 354.3h1v10.2h-1zM144.18 354.3h1v10.2h-1zM145.18 354.3h1v10.2h-1zM148.18 354.3h1v10.2h-1zM150.19 354.3h1v10.2h-1zM152.19 354.3h1v10.2h-1zM156.19 354.3h1v10.2h-1zM159.2 354.3h1v10.2h-1zM160.2 354.3h1v10.2h-1zM161.2 354.3h1v10.2h-1zM163.21 354.3h1v10.2h-1zM164.21 354.3h1v10.2h-1zM167.21 354.3h1v10.2h-1zM171.22 354.3h1v10.2h-1zM172.22 354.3h1v10.2h-1zM174.22 354.3h1v10.2h-1zM178.23 354.3h1v10.2h-1zM180.23 354.3h1v10.2h-1zM181.23 354.3h1v10.2h-1zM182.24 354.3h1v10.2h-1zM183.24 354.3h1v10.2h-1zM185.24 354.3h1v10.2h-1zM186.24 354.3h1v10.2h-1zM187.24 354.3h1v10.2h-1zM188.25 354.3h1v10.2h-1zM191.25 354.3h1v10.2h-1zM192.25 354.3h1v10.2h-1zM193.25 354.3h1v10.2h-1zM194.25 354.3h1v10.2h-1zM195.26 354.3h1v10.2h-1zM197.26 354.3h1v10.2h-1zM198.26 354.3h1v10.2h-1zM199.26 354.3h1v10.2h-1zM200.26 354.3h1v10.2h-1zM203.27 354.3h1v10.2h-1zM204.27 354.3h1v10.2h-1zM205.27 354.3h1v10.2h-1zM206.27 354.3h1v10.2h-1zM212.28 354.3h1v10.2h-1zM213.28 354.3h1v10.2h-1zM214.29 354.3h1v10.2h-1zM215.29 354.3h1v10.2h-1zM216.29 354.3h1v10.2h-1zM217.29 354.3h1v10.2h-1zM218.29 354.3h1v10.2h-1zM219.29 354.3h1v10.2h-1zM220.3 354.3h1v10.2h-1zM221.3 354.3h1v10.2h-1zM228.31 354.3h1v10.2h-1zM231.31 354.3h1v10.2h-1zM234.32 354.3h1v10.2h-1zM239.33 354.3h1v10.2h-1zM241.33 354.3h1v10.2h-1zM244.33 354.3h1v10.2h-1zM245.34 354.3h1v10.2h-1zM246.34 354.3h1v10.2h-1zM247.34 354.3h1v10.2h-1zM249.34 354.3h1v10.2h-1zM250.34 354.3h1v10.2h-1zM251.34 354.3h1v10.2h-1zM254.35 354.3h1v10.2h-1zM256.35 354.3h1v10.2h-1zM258.36 354.3h1v10.2h-1zM259.36 354.3h1v10.2h-1zM261.36 354.3h1v10.2h-1zM263.36 354.3h1v10.2h-1zM265.37 354.3h1v10.2h-1zM272.38 354.3h1v10.2h-1zM273.38 354.3h1v10.2h-1zM274.38 354.3h1v10.2h-1zM275.38 354.3h1v10.2h-1zM278.39 354.3h1v10.2h-1zM279.39 354.3h1v10.2h-1zM282.39 354.3h1v10.2h-1zM284.4 354.3h1v10.2h-1z"/>
<path fill="rgb(170,170,170)" d="M99.1 354.3h1v10.2h-1zM117.13 354.3h1v10.2h-1zM124.14 354.3h1v10.2h-1zM196.26 354.3h1v10.2h-1zM270.37 354.3h1v10.2h-1zM277.39 354.3h1v10.2h-1z"/>
<path fill="rgb(200,200,200)" d="M112.13 354.3h1v10.2h-1zM114.13 354.3h1v10.2h-1zM166.21 354.3h1v10.2h-1zM211.28 354.3h1v10.2h-1zM225.3 354.3h1v10.2h-1zM226.31 354.3h1v10.2h-1zM238.32 354.3h1v10.2h-1zM280.39 354.3h1v10.2h-1zM283.4 354.3h1v10.2h-1z"/>
<path fill="rgb(100,100,100)" d="M138.17 354.3h1v10.2h-1zM143.17 354.3h1v10.2h-1zM157.2 354.3h1v10.2h-1zM184.24 354.3h1v10.2h-1z"/>
<path fill="rgb(60,60,60)" d="M153.19 354.3h1v10.2h-1zM176.23 354.3h1v10.2h-1zM179.23 354.3h1v10.2h-1zM257.35 354.3h1v10.2h-1zM268.37 354.3h1v10.2h-1zM271.38 354.3h1v10.2h-1z"/>
<path fill="rgb(140,140,140)" d="M155.19 354.3h1v10.2h-1zM208.28 354.3h1v10.2h-1zM255.35 354.3h1v10.2h-1zM281.39 354.3h1v10.2h-1z"/>
<text x="292.7" y="354.9" font-size="7.2" text-anchor="start" fill="#000">HRD</text>
<text x="292.7" y="365.4" font-size="7.2" text-anchor="start" fill="#000">WGD</text>
<text x="191.2" y="376.4" font-size="8.8" text-anchor="middle" fill="#000">Samples</text>
<g stroke="#bdbdbd" stroke-width="0.85">
<line x1="367.3" y1="49.6" x2="367.3" y2="143.8"/>
<line x1="393.5" y1="49.6" x2="393.5" y2="143.8"/>
<line x1="419.7" y1="49.6" x2="419.7" y2="143.8"/>
<line x1="445.9" y1="49.6" x2="445.9" y2="143.8"/>
<line x1="472.1" y1="49.6" x2="472.1" y2="143.8"/>
<line x1="499.7" y1="49.6" x2="499.7" y2="143.8"/>
<line x1="526.6" y1="49.6" x2="526.6" y2="143.8"/>
<line x1="553.8" y1="49.6" x2="553.8" y2="143.8"/>
<line x1="580.9" y1="49.6" x2="580.9" y2="143.8"/>
<line x1="607.4" y1="49.6" x2="607.4" y2="143.8"/>
<line x1="635" y1="49.6" x2="635" y2="143.8"/>
</g>
<line x1="662.4" y1="49.1" x2="662.4" y2="144.3" stroke="#8a8a8a" stroke-width="0.9"/>
<polygon fill="#1b1b1b" stroke="#333" stroke-width="0.35" stroke-opacity="0.75" points="367.5,50.4 363.39,50.4 363.42,50.75 363.59,51.1 363.59,51.45 363.67,51.8 363.8,52.15 363.69,52.5 363.79,52.85 363.86,53.2 363.86,53.55 363.93,53.9 364.09,54.25 364.21,54.6 364.33,54.95 364.41,55.3 364.43,55.65 364.52,56 364.62,56.35 364.76,56.7 364.66,57.05 364.49,57.4 364.17,57.75 363.89,58.1 363.93,58.45 363.9,58.8 363.97,59.15 364.04,59.5 363.73,59.85 363.48,60.2 363.21,60.55 363.22,60.9 363.21,61.25 362.98,61.6 363.02,61.95 362.7,62.3 362.56,62.65 362.81,63 362.73,63.35 362.65,63.7 362.6,64.05 362.36,64.4 362.25,64.75 362.27,65.1 362.01,65.45 361.8,65.8 361.67,66.15 361.5,66.5 361.29,66.85 361.06,67.2 360.9,67.55 360.89,67.9 361,68.25 361.32,68.6 361.36,68.95 361.52,69.3 361.62,69.65 361.38,70 361.3,70.35 360.81,70.7 360.57,71.05 360.14,71.4 359.71,71.75 360.01,72.1 360.25,72.45 360.63,72.8 360.69,73.15 360.66,73.5 361.13,73.85 360.79,74.2 360.41,74.55 360.34,74.9 359.97,75.25 359.66,75.6 359.58,75.95 359.16,76.3 358.85,76.65 359.01,77 358.91,77.35 358.96,77.7 358.61,78.05 358.17,78.4 358.25,78.75 358.21,79.1 358.02,79.45 357.78,79.8 357.45,80.15 357.09,80.5 357.03,80.85 357.15,81.2 356.98,81.55 357.02,81.9 357.18,82.25 357.38,82.6 357.43,82.95 357.91,83.3 358,83.65 358.03,84 358.51,84.35 358.17,84.7 358.23,85.05 358.02,85.4 357.74,85.75 357.62,86.1 357.24,86.45 357.25,86.8 357.3,87.15 357.59,87.5 357.43,87.85 357.44,88.2 357.34,88.55 357,88.9 357.25,89.25 357.02,89.6 356.81,89.95 356.72,90.3 356.69,90.65 356.63,91 356.69,91.35 356.47,91.7 355.99,92.05 356.19,92.4 356.31,92.75 356.3,93.1 356.13,93.45 356.05,93.8 355.85,94.15 355.86,94.5 356.41,94.85 356.33,95.2 355.53,95.55 350.99,95.9 346.37,96.25 347.07,96.6 348.76,96.95 350.7,97.3 352.35,97.65 354.12,98 355.67,98.35 357.39,98.7 359.26,99.05 360.62,99.4 362.1,99.75 363.38,100.1 364.69,100.45 365.45,100.8 365.98,101.15 366.27,101.5 366.42,101.85 366.59,102.2 366.68,102.55 366.66,102.9 366.14,103.25 365.56,103.6 365.07,103.95 364.38,104.3 363.82,104.65 363.28,105 363.11,105.35 362.95,105.7 362.38,106.05 362.09,106.4 361.55,106.75 361.37,107.1 361.3,107.45 361.06,107.8 360.58,108.15 360.47,108.5 360.53,108.85 360.41,109.2 360.51,109.55 360.3,109.9 359.98,110.25 359.7,110.6 359.73,110.95 359.39,111.3 359.25,111.65 359.24,112 358.64,112.35 358.33,112.7 358.01,113.05 357.67,113.4 357.8,113.75 357.42,114.1 357.24,114.45 357.33,114.8 356.97,115.15 357.09,115.5 357.15,115.85 356.61,116.2 356.22,116.55 355.8,116.9 355.39,117.25 355.86,117.6 355.78,117.95 356.24,118.3 356.21,118.65 355.75,119 355.67,119.35 355.58,119.7 355.79,120.05 355.94,120.4 356.66,120.75 356.58,121.1 357.09,121.45 357.52,121.8 357.66,122.15 357.53,122.5 357.68,122.85 357.85,123.2 357.68,123.55 358.21,123.9 358.22,124.25 358.38,124.6 358.45,124.95 358.27,125.3 358.05,125.65 357.74,126 357.58,126.35 357.64,126.7 357.88,127.05 357.98,127.4 358.23,127.75 358.39,128.1 358.56,128.45 358.87,128.8 359.12,129.15 359.12,129.5 359.33,129.85 359.61,130.2 359.59,130.55 359.85,130.9 359.98,131.25 360.43,131.6 360.65,131.95 360.89,132.3 361.26,132.65 361.07,133 361.46,133.35 361.87,133.7 361.8,134.05 362.03,134.4 362.01,134.75 362.17,135.1 362.07,135.45 362.22,135.8 362.55,136.15 362.41,136.5 362.78,136.85 362.79,137.2 362.79,137.55 363.01,137.9 363.18,138.25 363.5,138.6 363.64,138.95 363.9,139.3 364.21,139.65 364.28,140 364.37,140.35 364.42,140.7 364.49,141.05 364.52,141.4 364.74,141.75 364.83,142.1 364.81,142.45 364.97,142.8 364.89,143.15 364.86,143.5 364.85,143.85 364.86,144.2 364.9,144.55 367.5,144.6"/>
<polygon fill="#3b7bbf" stroke="#333" stroke-width="0.35" stroke-opacity="0.75" points="393.7,50.33 392.21,50.33 390.93,50.68 390.61,51.03 390.17,51.38 389.69,51.73 389.33,52.08 388.68,52.43 388.53,52.78 388.82,53.13 388.82,53.48 389.05,53.83 389.23,54.18 389.37,54.53 389.58,54.88 389.79,55.23 389.94,55.58 390.16,55.93 390.41,56.28 390.69,56.63 390.65,56.98 390.47,57.33 390.34,57.68 390.12,58.03 390.13,58.38 389.96,58.73 389.76,59.08 389.85,59.43 389.83,59.78 389.94,60.13 389.98,60.48 389.77,60.83 389.46,61.18 389.2,61.53 389.18,61.88 389.08,62.23 389.11,62.58 389.01,62.93 389.05,63.28 389.04,63.63 388.92,63.98 388.74,64.33 388.63,64.68 388.55,65.03 388.48,65.38 388.42,65.73 388.22,66.08 387.79,66.43 387.79,66.78 387.62,67.13 387.31,67.48 387.57,67.83 387.42,68.18 387.52,68.53 387.74,68.88 387.56,69.23 387.42,69.58 387.57,69.93 387.62,70.28 387.82,70.63 388.01,70.98 388.07,71.33 388.06,71.68 387.98,72.03 387.98,72.38 388.08,72.73 388.23,73.08 388.5,73.43 388.42,73.78 388.19,74.13 387.73,74.48 387.34,74.83 387.46,75.18 387.31,75.53 387.38,75.88 387.39,76.23 387.26,76.58 386.94,76.93 386.73,77.28 386.34,77.63 386.1,77.98 386.3,78.33 386.07,78.68 385.93,79.03 385.77,79.38 385.47,79.73 385.5,80.08 385.23,80.43 384.72,80.78 384.58,81.13 384,81.48 383.88,81.83 383.77,82.18 383.53,82.53 383.53,82.88 383.2,83.23 383.06,83.58 382.81,83.93 382.65,84.28 382.54,84.63 382.73,84.98 382.79,85.33 382.76,85.68 382.63,86.03 382.43,86.38 382.16,86.73 382.4,87.08 382.83,87.43 382.88,87.78 383.61,88.13 383.75,88.48 383.94,88.83 384.04,89.18 384.05,89.53 383.94,89.88 383.7,90.23 383.77,90.58 383.33,90.93 383.6,91.28 383.81,91.63 384.02,91.98 384.52,92.33 384.9,92.68 384.43,93.03 383.74,93.38 383.37,93.73 382.96,94.08 382.81,94.43 382.89,94.78 382.65,95.13 382.36,95.48 381.95,95.83 381.34,96.18 381.86,96.53 382.37,96.88 383.14,97.23 383.64,97.58 384.18,97.93 384.87,98.28 385.63,98.63 386.72,98.98 387.36,99.33 388.13,99.68 388.56,100.03 389.2,100.38 389.73,100.73 390.33,101.08 390.81,101.43 391.29,101.78 391.61,102.13 391.96,102.48 392.33,102.83 392.68,103.18 392.5,103.53 392.13,103.88 391.83,104.23 391.46,104.58 390.82,104.93 389.99,105.28 389.18,105.63 388.56,105.98 388.14,106.33 388.11,106.68 388.22,107.03 387.83,107.38 387.63,107.73 387.63,108.08 387.25,108.43 387.26,108.78 387.2,109.13 387.29,109.48 387.34,109.83 387.26,110.18 387.28,110.53 386.89,110.88 386.74,111.23 386.93,111.58 386.68,111.93 386.91,112.28 386.71,112.63 386.21,112.98 386.28,113.33 386.12,113.68 386.06,114.03 385.98,114.38 385.38,114.73 384.92,115.08 384.74,115.43 384.4,115.78 384.66,116.13 384.48,116.48 384.07,116.83 383.93,117.18 383.5,117.53 382.93,117.88 381.86,118.23 380.9,118.58 380.05,118.93 379.01,119.28 378.65,119.63 379.18,119.98 380.25,120.33 381.48,120.68 382.16,121.03 382.81,121.38 383.45,121.73 384.61,122.08 385.18,122.43 385.56,122.78 385.55,123.13 385.43,123.48 385.17,123.83 384.93,124.18 384.78,124.53 384.52,124.88 384.26,125.23 384.14,125.58 383.88,125.93 383.58,126.28 383.64,126.63 383.01,126.98 383.09,127.33 383.82,127.68 384.38,128.03 385.08,128.38 385.57,128.73 385.94,129.08 386.27,129.43 386.55,129.78 387.06,130.13 387.38,130.48 387.05,130.83 386.98,131.18 386.85,131.53 386.9,131.88 387.23,132.23 387.81,132.58 387.97,132.93 388.05,133.28 388.33,133.63 388.3,133.98 388.3,134.33 388.25,134.68 388.3,135.03 388.29,135.38 388.68,135.73 389.05,136.08 389.46,136.43 389.74,136.78 389.49,137.13 389.27,137.48 388.93,137.83 388.89,138.18 388.88,138.53 388.97,138.88 389.37,139.23 389.31,139.58 389.42,139.93 389.65,140.28 389.85,140.63 390.1,140.98 390.34,141.33 390.32,141.68 390.42,142.03 390.51,142.38 390.55,142.73 390.77,143.08 390.94,143.43 391.17,143.78 391.33,144.13 391.46,144.48 393.7,144.53"/>
<polygon fill="#43a872" stroke="#333" stroke-width="0.35" stroke-opacity="0.75" points="419.9,50.26 417.33,50.26 417.36,50.61 417.45,50.96 417.63,51.31 417.57,51.66 417.74,52.01 417.78,52.36 417.87,52.71 417.87,53.06 417.95,53.41 418.11,53.76 418.25,54.11 418.55,54.46 418.63,54.81 418.51,55.16 418.36,55.51 418.22,55.86 418.03,56.21 417.9,56.56 417.71,56.91 417.4,57.26 417.18,57.61 416.96,57.96 416.74,58.31 416.57,58.66 416.25,59.01 415.99,59.36 415.76,59.71 415.49,60.06 415.5,60.41 415.3,60.76 415.08,61.11 414.99,61.46 414.77,61.81 414.55,62.16 414.81,62.51 414.58,62.86 414.48,63.21 414.54,63.56 413.95,63.91 413.77,64.26 413.48,64.61 413.28,64.96 413.21,65.31 413.21,65.66 412.85,66.01 412.49,66.36 412.35,66.71 412.06,67.06 412.17,67.41 412.29,67.76 412.11,68.11 412.06,68.46 411.9,68.81 411.65,69.16 411.47,69.51 411.69,69.86 411.33,70.21 410.92,70.56 411.04,70.91 410.55,71.26 410.66,71.61 410.5,71.96 410.44,72.31 410.45,72.66 410.69,73.01 411.1,73.36 411.59,73.71 412,74.06 412.53,74.41 413.21,74.76 413.02,75.11 413.44,75.46 413.77,75.81 414.16,76.16 414.51,76.51 414.4,76.86 414.25,77.21 414.1,77.56 413.84,77.91 413.52,78.26 413.14,78.61 412.52,78.96 412.46,79.31 412.42,79.66 412.42,80.01 412.47,80.36 412.11,80.71 412.1,81.06 411.95,81.41 411.76,81.76 411.8,82.11 411.39,82.46 411.43,82.81 411.69,83.16 411.77,83.51 411.73,83.86 411.5,84.21 411.27,84.56 411.29,84.91 411.37,85.26 411.46,85.61 411.33,85.96 411.34,86.31 411.31,86.66 411.42,87.01 411.58,87.36 411.55,87.71 411.33,88.06 411.22,88.41 411.13,88.76 411.34,89.11 411.63,89.46 411.81,89.81 411.83,90.16 411.74,90.51 411.45,90.86 411.17,91.21 411.4,91.56 411.18,91.91 411.43,92.26 411.54,92.61 411.09,92.96 410.46,93.31 410.19,93.66 409.89,94.01 409.77,94.36 409.6,94.71 409.16,95.06 408.77,95.41 408.64,95.76 408.62,96.11 409.06,96.46 409.35,96.81 409.4,97.16 409.72,97.51 410.33,97.86 411.4,98.21 412.53,98.56 413.52,98.91 414.32,99.26 415.04,99.61 415.65,99.96 416.22,100.31 416.92,100.66 417.68,101.01 418.2,101.36 418.67,101.71 418.86,102.06 419.04,102.41 419.29,102.76 419.55,103.11 419.29,103.46 418.93,103.81 418.53,104.16 418.17,104.51 417.78,104.86 417.48,105.21 417.18,105.56 416.76,105.91 416.43,106.26 416.05,106.61 415.81,106.96 415.7,107.31 415.4,107.66 415.43,108.01 415.31,108.36 415.25,108.71 415.06,109.06 414.41,109.41 414.02,109.76 413.48,110.11 413.1,110.46 412.63,110.81 412.44,111.16 412.26,111.51 411.81,111.86 411.78,112.21 411.07,112.56 410.73,112.91 410.43,113.26 410.25,113.61 410.51,113.96 410.53,114.31 410.63,114.66 410.59,115.01 410.36,115.36 410.26,115.71 410.01,116.06 409.9,116.41 409.65,116.76 409.51,117.11 409.66,117.46 409.44,117.81 409.53,118.16 409.19,118.51 408.6,118.86 408.13,119.21 407.52,119.56 406.95,119.91 406.71,120.26 406.36,120.61 406.72,120.96 407.51,121.31 407.77,121.66 408.37,122.01 408.73,122.36 409.1,122.71 409.66,123.06 410.02,123.41 410.63,123.76 410.46,124.11 410.58,124.46 410.47,124.81 410.22,125.16 410.17,125.51 410.01,125.86 410,126.21 409.92,126.56 410.11,126.91 410,127.26 409.95,127.61 409.94,127.96 409.67,128.31 410.16,128.66 410.19,129.01 410.6,129.36 411.18,129.71 411.17,130.06 411.61,130.41 412.2,130.76 412.43,131.11 412.88,131.46 413.14,131.81 413.38,132.16 413.59,132.51 413.81,132.86 414.29,133.21 414.55,133.56 414.65,133.91 414.69,134.26 414.27,134.61 414.06,134.96 414.06,135.31 413.98,135.66 414.3,136.01 414.16,136.36 414.17,136.71 414.18,137.06 414.23,137.41 414.59,137.76 414.46,138.11 414.66,138.46 414.76,138.81 414.87,139.16 415.15,139.51 415.2,139.86 414.98,140.21 414.88,140.56 414.81,140.91 414.66,141.26 414.8,141.61 415,141.96 415.24,142.31 415.43,142.66 415.62,143.01 415.97,143.36 416.4,143.71 416.75,144.06 417.17,144.41 419.9,144.46"/>
<polygon fill="#cf70b9" stroke="#333" stroke-width="0.35" stroke-opacity="0.75" points="446.1,50.19 442.85,50.19 442.85,50.54 442.91,50.89 443.08,51.24 443.17,51.59 443.4,51.94 443.53,52.29 443.61,52.64 443.6,52.99 443.55,53.34 443.48,53.69 443.38,54.04 443.36,54.39 443.48,54.74 443.52,55.09 443.7,55.44 443.74,55.79 443.76,56.14 443.97,56.49 443.84,56.84 443.78,57.19 443.61,57.54 443.44,57.89 443.18,58.24 443.1,58.59 443.08,58.94 443.07,59.29 443.07,59.64 443.03,59.99 443.01,60.34 442.86,60.69 442.9,61.04 442.57,61.39 442.41,61.74 442.22,62.09 441.91,62.44 442.01,62.79 442.08,63.14 442.18,63.49 442.2,63.84 442.05,64.19 442.05,64.54 441.99,64.89 442.01,65.24 442.03,65.59 441.89,65.94 441.75,66.29 441.39,66.64 441.33,66.99 441.28,67.34 441.17,67.69 441.41,68.04 441.34,68.39 441.21,68.74 441.01,69.09 440.87,69.44 440.51,69.79 440.37,70.14 440.26,70.49 439.87,70.84 439.83,71.19 439.53,71.54 439.4,71.89 439.38,72.24 439.3,72.59 439.45,72.94 439.18,73.29 439.17,73.64 439.27,73.99 438.71,74.34 438.79,74.69 438.74,75.04 438.19,75.39 438.43,75.74 438.15,76.09 437.99,76.44 438.11,76.79 438.06,77.14 438.24,77.49 438.02,77.84 437.75,78.19 437.15,78.54 436.2,78.89 435.88,79.24 435.39,79.59 435.26,79.94 435.3,80.29 435.09,80.64 435.56,80.99 435.69,81.34 435.94,81.69 435.83,82.04 435.83,82.39 435.79,82.74 436.07,83.09 436.51,83.44 436.71,83.79 437.26,84.14 437.59,84.49 437.93,84.84 438.41,85.19 438.64,85.54 438.37,85.89 438.07,86.24 437.71,86.59 437.72,86.94 437.53,87.29 437.54,87.64 437.11,87.99 436.67,88.34 436.37,88.69 435.73,89.04 435.58,89.39 435.33,89.74 434.96,90.09 434.8,90.44 434.7,90.79 434.37,91.14 434.56,91.49 433.95,91.84 433.39,92.19 432.99,92.54 431.96,92.89 431.44,93.24 430.94,93.59 429.93,93.94 429.16,94.29 428.29,94.64 427.4,94.99 426.43,95.34 425.33,95.69 424.46,96.04 423.96,96.39 425.29,96.74 427.16,97.09 429.18,97.44 431.52,97.79 433.48,98.14 434.95,98.49 436.8,98.84 438.09,99.19 439.82,99.54 441.88,99.89 443.22,100.24 444.49,100.59 445.27,100.94 445.36,101.29 445.42,101.64 445.3,101.99 445.14,102.34 445.05,102.69 444.91,103.04 444.86,103.39 444.58,103.74 443.96,104.09 443.43,104.44 442.82,104.79 442.2,105.14 441.7,105.49 441.35,105.84 441.02,106.19 440.6,106.54 440.2,106.89 439.53,107.24 439.11,107.59 439.51,107.94 439.43,108.29 439.35,108.64 439.26,108.99 438.77,109.34 438.78,109.69 438.95,110.04 438.94,110.39 438.91,110.74 438.86,111.09 438.98,111.44 438.98,111.79 439.11,112.14 438.94,112.49 438.99,112.84 439,113.19 438.59,113.54 438.29,113.89 438.28,114.24 437.58,114.59 437.09,114.94 436.66,115.29 435.87,115.64 435.83,115.99 435.94,116.34 435.65,116.69 435.4,117.04 435.25,117.39 435.02,117.74 435.04,118.09 434.72,118.44 434.36,118.79 434.03,119.14 433.82,119.49 434.16,119.84 434.37,120.19 434.33,120.54 434.68,120.89 434.51,121.24 435.04,121.59 435.43,121.94 435.25,122.29 435.72,122.64 435.73,122.99 435.76,123.34 435.9,123.69 436.24,124.04 436.3,124.39 436.91,124.74 437.26,125.09 437.65,125.44 438.09,125.79 438.03,126.14 438.37,126.49 438.27,126.84 437.95,127.19 437.49,127.54 437.1,127.89 437.06,128.24 437.02,128.59 436.49,128.94 435.88,129.29 435.11,129.64 434.39,129.99 434.48,130.34 435.13,130.69 435.74,131.04 436.04,131.39 436.51,131.74 436.97,132.09 437.21,132.44 438.05,132.79 438.78,133.14 439.53,133.49 439.99,133.84 440.25,134.19 440.44,134.54 440.52,134.89 440.96,135.24 441.31,135.59 441.41,135.94 441.59,136.29 441.72,136.64 441.84,136.99 441.98,137.34 442.04,137.69 442.14,138.04 442.41,138.39 442.64,138.74 443,139.09 443.33,139.44 443.49,139.79 443.57,140.14 443.62,140.49 443.78,140.84 443.87,141.19 444.03,141.54 444.23,141.89 444.38,142.24 444.6,142.59 444.68,142.94 444.82,143.29 444.94,143.64 445.11,143.99 445.37,144.34 446.1,144.39"/>
<polygon fill="#e4a62f" stroke="#333" stroke-width="0.35" stroke-opacity="0.75" points="472.3,50.12 468.09,50.12 468.21,50.47 468.27,50.82 468.21,51.17 468.2,51.52 468.32,51.87 468.52,52.22 468.65,52.57 468.67,52.92 468.73,53.27 468.89,53.62 469.13,53.97 469.25,54.32 469.27,54.67 469.18,55.02 469,55.37 469.07,55.72 469.01,56.07 468.81,56.42 468.9,56.77 468.9,57.12 468.98,57.47 469.11,57.82 469.16,58.17 469.26,58.52 469.24,58.87 469.1,59.22 469.07,59.57 469.02,59.92 468.88,60.27 468.77,60.62 468.64,60.97 468.6,61.32 468.53,61.67 468.52,62.02 468.55,62.37 468.57,62.72 468.41,63.07 468.4,63.42 468.14,63.77 467.89,64.12 468.02,64.47 467.75,64.82 467.81,65.17 467.72,65.52 467.37,65.87 467.45,66.22 467.22,66.57 467.18,66.92 467.02,67.27 466.86,67.62 466.68,67.97 466.71,68.32 466.72,68.67 466.46,69.02 466.15,69.37 465.71,69.72 465.11,70.07 464.66,70.42 464.67,70.77 464.63,71.12 465.06,71.47 465.16,71.82 465.09,72.17 465.26,72.52 465.27,72.87 465.39,73.22 465.62,73.57 465.74,73.92 465.9,74.27 465.89,74.62 465.71,74.97 465.53,75.32 465.14,75.67 465.12,76.02 465.06,76.37 464.89,76.72 464.65,77.07 464.29,77.42 464.02,77.77 463.78,78.12 463.63,78.47 463.5,78.82 463.32,79.17 462.84,79.52 462.84,79.87 462.51,80.22 462.11,80.57 462.14,80.92 461.86,81.27 461.5,81.62 461.45,81.97 461.44,82.32 461.68,82.67 462.02,83.02 462.12,83.37 462.03,83.72 461.95,84.07 462.11,84.42 462.45,84.77 462.91,85.12 463.17,85.47 463.51,85.82 463.74,86.17 463.74,86.52 463.58,86.87 463.62,87.22 463.27,87.57 463.37,87.92 463.45,88.27 462.91,88.62 462.8,88.97 462.59,89.32 462.2,89.67 462.12,90.02 461.77,90.37 461.25,90.72 461,91.07 460.59,91.42 460.11,91.77 460.23,92.12 459.94,92.47 459.74,92.82 459.85,93.17 459.51,93.52 459.23,93.87 458.81,94.22 458.38,94.57 457.64,94.92 456.95,95.27 456.39,95.62 455.6,95.97 454.96,96.32 455.66,96.67 456.56,97.02 457.73,97.37 458.92,97.72 460.04,98.07 461.59,98.42 462.89,98.77 463.94,99.12 465.11,99.47 465.97,99.82 467.16,100.17 468.55,100.52 469.58,100.87 470.71,101.22 471.7,101.57 471.74,101.92 471.51,102.27 471.15,102.62 470.66,102.97 470.28,103.32 469.7,103.67 469.04,104.02 468.42,104.37 467.8,104.72 467.43,105.07 467.15,105.42 466.8,105.77 466.35,106.12 465.92,106.47 465.77,106.82 465.82,107.17 465.83,107.52 465.89,107.87 465.73,108.22 465.71,108.57 465.45,108.92 465.22,109.27 465.27,109.62 464.91,109.97 464.99,110.32 465.4,110.67 465.22,111.02 465.29,111.37 465.27,111.72 464.82,112.07 464.65,112.42 464.49,112.77 464.21,113.12 463.78,113.47 463.72,113.82 463.74,114.17 463.51,114.52 463.84,114.87 463.72,115.22 463.46,115.57 463.66,115.92 463.25,116.27 462.99,116.62 463.02,116.97 462.91,117.32 462.92,117.67 462.6,118.02 462.37,118.37 462.52,118.72 462.58,119.07 462.52,119.42 462.47,119.77 462.46,120.12 462.27,120.47 462.46,120.82 462.22,121.17 462.06,121.52 461.88,121.87 461.76,122.22 462.07,122.57 462.18,122.92 462.25,123.27 462.34,123.62 462.34,123.97 462.5,124.32 462.62,124.67 462.66,125.02 462.57,125.37 462.51,125.72 462.45,126.07 462.21,126.42 461.82,126.77 461.85,127.12 461.79,127.47 461.71,127.82 462.26,128.17 462.19,128.52 462.79,128.87 463.07,129.22 463.02,129.57 463.64,129.92 463.6,130.27 463.6,130.62 463.99,130.97 464.03,131.32 464.14,131.67 464.6,132.02 464.69,132.37 464.7,132.72 464.93,133.07 465.2,133.42 465.55,133.77 465.68,134.12 465.84,134.47 465.92,134.82 466.17,135.17 466.7,135.52 467.04,135.87 467.26,136.22 467.42,136.57 467.39,136.92 467.48,137.27 467.53,137.62 467.58,137.97 467.52,138.32 467.49,138.67 467.69,139.02 467.86,139.37 467.98,139.72 468.11,140.07 468.27,140.42 468.48,140.77 468.81,141.12 469.11,141.47 469.39,141.82 469.68,142.17 469.87,142.52 470.09,142.87 470.42,143.22 470.75,143.57 471,143.92 471.31,144.27 472.3,144.32"/>
<polygon fill="#1b1b1b" stroke="#333" stroke-width="0.35" stroke-opacity="0.75" points="499.9,50.04 497.89,50.04 497.81,50.39 497.97,50.74 498.24,51.09 498.47,51.44 498.55,51.79 498.46,52.14 498.25,52.49 497.96,52.84 497.62,53.19 497.24,53.54 496.86,53.89 496.48,54.24 496.14,54.59 495.84,54.94 495.62,55.29 495.49,55.64 495.45,55.99 495.52,56.34 495.68,56.69 495.92,57.04 496.23,57.39 496.59,57.74 496.97,58.09 497.35,58.44 497.72,58.79 498.06,59.14 498.36,59.49 498.62,59.84 498.83,60.19 499,60.54 499.13,60.89 499.23,61.24 499.3,61.59 499.35,61.94 499.39,62.29 499.41,62.64 499.43,62.99 499.44,63.34 499.44,63.69 499.45,64.04 499.45,64.39 499.45,64.74 499.45,65.09 499.45,65.44 499.45,65.79 499.45,66.14 499.45,66.49 499.45,66.84 499.45,67.19 499.45,67.54 499.45,67.89 499.45,68.24 499.45,68.59 499.44,68.94 499.44,69.29 499.44,69.64 499.43,69.99 499.41,70.34 499.4,70.69 499.37,71.04 499.34,71.39 499.29,71.74 499.22,72.09 499.14,72.44 499.03,72.79 498.89,73.14 498.72,73.49 498.51,73.84 498.27,74.19 497.99,74.54 497.68,74.89 497.34,75.24 496.98,75.59 496.62,75.94 496.25,76.29 495.91,76.64 495.6,76.99 495.34,77.34 495.13,77.69 495,78.04 494.95,78.39 494.98,78.74 495.09,79.09 495.27,79.44 495.52,79.79 495.82,80.14 496.15,80.49 496.51,80.84 496.88,81.19 497.24,81.54 497.58,81.89 497.9,82.24 498.19,82.59 498.44,82.94 498.66,83.29 498.84,83.64 498.99,83.99 499.11,84.34 499.2,84.69 499.26,85.04 499.31,85.39 499.33,85.74 499.32,86.09 499.27,86.44 499.17,86.79 499.02,87.14 498.79,87.49 498.51,87.84 498.19,88.19 497.87,88.54 497.62,88.89 497.47,89.24 497.46,89.59 497.59,89.94 497.83,90.29 498.13,90.64 498.43,90.99 498.69,91.34 498.86,91.69 498.91,92.04 498.81,92.39 498.55,92.74 498.1,93.09 497.44,93.44 496.58,93.79 495.55,94.14 494.44,94.49 493.34,94.84 492.39,95.19 491.73,95.54 491.45,95.89 491.61,96.24 492.16,96.59 493.03,96.94 494.09,97.29 495.19,97.64 496.21,97.99 497.04,98.34 497.64,98.69 497.97,99.04 498.04,99.39 497.88,99.74 497.51,100.09 496.99,100.44 496.41,100.79 495.83,101.14 495.34,101.49 495.03,101.84 494.94,102.19 495.09,102.54 495.45,102.89 495.95,103.24 496.53,103.59 497.08,103.94 497.55,104.29 497.86,104.64 498,104.99 497.95,105.34 497.7,105.69 497.28,106.04 496.72,106.39 496.06,106.74 495.36,107.09 494.66,107.44 494.05,107.79 493.58,108.14 493.31,108.49 493.26,108.84 493.44,109.19 493.83,109.54 494.38,109.89 495.05,110.24 495.75,110.59 496.44,110.94 497.04,111.29 497.51,111.64 497.83,111.99 497.95,112.34 497.86,112.69 497.54,113.04 496.98,113.39 496.18,113.74 495.16,114.09 493.96,114.44 492.65,114.79 491.31,115.14 490.07,115.49 489.03,115.84 488.3,116.19 487.97,116.54 488.06,116.89 488.57,117.24 489.44,117.59 490.57,117.94 491.85,118.29 493.15,118.64 494.36,118.99 495.38,119.34 496.15,119.69 496.66,120.04 496.91,120.39 496.96,120.74 496.89,121.09 496.8,121.44 496.77,121.79 496.87,122.14 497.11,122.49 497.45,122.84 497.86,123.19 498.27,123.54 498.63,123.89 498.93,124.24 499.14,124.59 499.28,124.94 499.36,125.29 499.41,125.64 499.43,125.99 499.44,126.34 499.45,126.69 499.45,127.04 499.45,127.39 499.45,127.74 499.45,128.09 499.45,128.44 499.45,128.79 499.45,129.14 499.45,129.49 499.45,129.84 499.45,130.19 499.45,130.54 499.45,130.89 499.45,131.24 499.45,131.59 499.45,131.94 499.45,132.29 499.45,132.64 499.45,132.99 499.45,133.34 499.45,133.69 499.45,134.04 499.45,134.39 499.45,134.74 499.45,135.09 499.45,135.44 499.45,135.79 499.45,136.14 499.45,136.49 499.45,136.84 499.45,137.19 499.45,137.54 499.45,137.89 499.45,138.24 499.45,138.59 499.45,138.94 499.45,139.29 499.45,139.64 499.45,139.99 499.45,140.34 499.45,140.69 499.45,141.04 499.45,141.39 499.45,141.74 499.45,142.09 499.45,142.44 499.45,142.79 499.45,143.14 499.45,143.49 499.45,143.84 499.45,144.19 499.9,144.24"/>
<polygon fill="#cf70b9" stroke="#333" stroke-width="0.35" stroke-opacity="0.75" points="526.8,49.97 525.6,49.97 525.49,50.32 525.36,50.67 525.22,51.02 525.09,51.37 525.02,51.72 525,52.07 525.05,52.42 525.16,52.77 525.29,53.12 525.43,53.47 525.56,53.82 525.65,54.17 525.72,54.52 525.76,54.87 525.78,55.22 525.79,55.57 525.8,55.92 525.8,56.27 525.8,56.62 525.8,56.97 525.8,57.32 525.8,57.67 525.8,58.02 525.8,58.37 525.8,58.72 525.8,59.07 525.8,59.42 525.8,59.77 525.8,60.12 525.8,60.47 525.8,60.82 525.8,61.17 525.8,61.52 525.8,61.87 525.8,62.22 525.8,62.57 525.8,62.92 525.8,63.27 525.8,63.62 525.8,63.97 525.8,64.32 525.8,64.67 525.8,65.02 525.8,65.37 525.8,65.72 525.8,66.07 525.8,66.42 525.8,66.77 525.79,67.12 525.78,67.47 525.76,67.82 525.73,68.17 525.69,68.52 525.61,68.87 525.52,69.22 525.39,69.57 525.24,69.92 525.07,70.27 524.9,70.62 524.76,70.97 524.65,71.32 524.59,71.67 524.6,72.02 524.66,72.37 524.77,72.72 524.9,73.07 525.02,73.42 525.11,73.77 525.16,74.12 525.13,74.47 525.03,74.82 524.84,75.17 524.57,75.52 524.2,75.87 523.74,76.22 523.2,76.57 522.59,76.92 521.94,77.27 521.26,77.62 520.61,77.97 520,78.32 519.49,78.67 519.1,79.02 518.86,79.37 518.8,79.72 518.91,80.07 519.19,80.42 519.62,80.77 520.17,81.12 520.79,81.47 521.45,81.82 522.11,82.17 522.74,82.52 523.3,82.87 523.77,83.22 524.13,83.57 524.35,83.92 524.42,84.27 524.33,84.62 524.08,84.97 523.68,85.32 523.16,85.67 522.56,86.02 521.96,86.37 521.42,86.72 521.01,87.07 520.81,87.42 520.83,87.77 521.08,88.12 521.53,88.47 522.11,88.82 522.77,89.17 523.42,89.52 524.02,89.87 524.53,90.22 524.92,90.57 525.2,90.92 525.37,91.27 525.39,91.62 525.26,91.97 524.91,92.32 524.26,92.67 523.25,93.02 521.81,93.37 519.99,93.72 517.91,94.07 515.85,94.42 514.11,94.77 513.04,95.12 512.83,95.47 513.54,95.82 515.01,96.17 516.94,96.52 518.98,96.87 520.84,97.22 522.31,97.57 523.32,97.92 523.93,98.27 524.24,98.62 524.38,98.97 524.47,99.32 524.58,99.67 524.74,100.02 524.94,100.37 525.16,100.72 525.36,101.07 525.52,101.42 525.63,101.77 525.7,102.12 525.74,102.47 525.75,102.82 525.73,103.17 525.7,103.52 525.63,103.87 525.54,104.22 525.41,104.57 525.24,104.92 525.04,105.27 524.81,105.62 524.57,105.97 524.34,106.32 524.16,106.67 524.03,107.02 523.98,107.37 524,107.72 524.1,108.07 524.26,108.42 524.43,108.77 524.6,109.12 524.74,109.47 524.81,109.82 524.82,110.17 524.74,110.52 524.57,110.87 524.31,111.22 523.97,111.57 523.56,111.92 523.09,112.27 522.58,112.62 522.04,112.97 521.49,113.32 520.97,113.67 520.51,114.02 520.12,114.37 519.82,114.72 519.65,115.07 519.6,115.42 519.69,115.77 519.9,116.12 520.22,116.47 520.63,116.82 521.12,117.17 521.65,117.52 522.2,117.87 522.74,118.22 523.25,118.57 523.72,118.92 524.14,119.27 524.51,119.62 524.81,119.97 525.06,120.32 525.25,120.67 525.4,121.02 525.5,121.37 525.57,121.72 525.6,122.07 525.6,122.42 525.57,122.77 525.51,123.12 525.42,123.47 525.32,123.82 525.21,124.17 525.11,124.52 525.03,124.87 524.99,125.22 524.98,125.57 525.01,125.92 525.05,126.27 525.1,126.62 525.14,126.97 525.14,127.32 525.1,127.67 525.02,128.02 524.92,128.37 524.79,128.72 524.69,129.07 524.61,129.42 524.59,129.77 524.63,130.12 524.72,130.47 524.86,130.82 525.02,131.17 526.32,131.52 526.36,131.87 526.41,132.22 526.44,132.57 526.46,132.92 526.48,133.27 526.49,133.62 526.49,133.97 526.5,134.32 526.5,134.67 526.5,135.02 526.5,135.37 526.5,135.72 526.5,136.07 526.5,136.42 526.5,136.77 526.5,137.12 526.5,137.47 526.5,137.82 526.5,138.17 526.5,138.52 526.5,138.87 526.5,139.22 526.5,139.57 526.5,139.92 526.5,140.27 526.5,140.62 526.5,140.97 526.5,141.32 526.5,141.67 526.5,142.02 526.5,142.37 526.5,142.72 526.5,143.07 526.5,143.42 526.5,143.77 526.5,144.12 526.8,144.17"/>
<polygon fill="#43a872" stroke="#333" stroke-width="0.35" stroke-opacity="0.75" points="554,49.89 553.12,49.89 553.03,50.24 552.9,50.59 552.73,50.94 552.5,51.29 552.2,51.64 551.84,51.99 551.4,52.34 550.89,52.69 550.32,53.04 549.71,53.39 549.09,53.74 548.48,54.09 547.92,54.44 547.44,54.79 547.08,55.14 546.86,55.49 546.8,55.84 546.91,56.19 547.17,56.54 547.56,56.89 548.07,57.24 548.65,57.59 549.27,57.94 549.89,58.29 550.49,58.64 551.04,58.99 551.53,59.34 551.95,59.69 552.29,60.04 552.57,60.39 552.78,60.74 552.94,61.09 553.06,61.44 553.14,61.79 553.2,62.14 553.24,62.49 553.26,62.84 553.28,63.19 553.29,63.54 553.29,63.89 553.3,64.24 553.3,64.59 553.3,64.94 553.3,65.29 553.3,65.64 553.3,65.99 553.3,66.34 553.3,66.69 553.3,67.04 553.3,67.39 553.3,67.74 553.3,68.09 553.3,68.44 553.3,68.79 553.3,69.14 553.3,69.49 553.3,69.84 553.3,70.19 553.3,70.54 553.3,70.89 553.3,71.24 553.3,71.59 553.3,71.94 553.29,72.29 553.29,72.64 553.28,72.99 553.26,73.34 553.24,73.69 553.19,74.04 553.13,74.39 553.04,74.74 552.9,75.09 552.72,75.44 552.48,75.79 552.17,76.14 551.8,76.49 551.36,76.84 550.87,77.19 550.34,77.54 549.82,77.89 549.32,78.24 548.89,78.59 548.56,78.94 548.36,79.29 548.3,79.64 548.4,79.99 548.64,80.34 549,80.69 549.46,81.04 549.96,81.39 550.49,81.74 551.01,82.09 551.48,82.44 551.9,82.79 552.24,83.14 552.51,83.49 552.7,83.84 552.81,84.19 552.85,84.54 552.82,84.89 552.72,85.24 552.57,85.59 552.39,85.94 552.19,86.29 552.01,86.64 551.88,86.99 551.8,87.34 551.81,87.69 551.9,88.04 552.05,88.39 552.24,88.74 552.45,89.09 552.65,89.44 552.83,89.79 552.98,90.14 553.08,90.49 553.13,90.84 553.14,91.19 553.08,91.54 552.94,91.89 552.68,92.24 552.28,92.59 551.71,92.94 550.96,93.29 550.05,93.64 549.08,93.99 548.14,94.34 547.37,94.69 546.9,95.04 546.82,95.39 547.13,95.74 547.78,96.09 548.66,96.44 549.64,96.79 550.59,97.14 551.41,97.49 552.06,97.84 552.54,98.19 552.86,98.54 553.06,98.89 553.18,99.24 553.24,99.59 553.27,99.94 553.29,100.29 553.29,100.64 553.29,100.99 553.29,101.34 553.28,101.69 553.26,102.04 553.24,102.39 553.2,102.74 553.13,103.09 553.03,103.44 552.88,103.79 552.67,104.14 552.38,104.49 552.01,104.84 551.53,105.19 550.96,105.54 550.28,105.89 549.54,106.24 548.75,106.59 547.96,106.94 547.23,107.29 546.6,107.64 546.13,107.99 545.86,108.34 545.81,108.69 545.99,109.04 546.38,109.39 546.94,109.74 547.64,110.09 548.41,110.44 549.2,110.79 549.97,111.14 550.67,111.49 551.28,111.84 551.77,112.19 552.16,112.54 552.42,112.89 552.56,113.24 552.58,113.59 552.45,113.94 552.18,114.29 551.73,114.64 551.08,114.99 550.21,115.34 549.12,115.69 547.81,116.04 546.33,116.39 544.73,116.74 543.13,117.09 541.62,117.44 540.34,117.79 539.39,118.14 538.88,118.49 538.85,118.84 539.29,119.19 540.18,119.54 541.42,119.89 542.9,120.24 544.51,120.59 546.11,120.94 547.61,121.29 548.95,121.64 550.08,121.99 550.99,122.34 551.69,122.69 552.18,123.04 552.5,123.39 552.67,123.74 552.71,124.09 552.63,124.44 552.44,124.79 552.18,125.14 551.86,125.49 551.52,125.84 551.21,126.19 550.96,126.54 550.82,126.89 550.81,127.24 550.93,127.59 551.17,127.94 551.48,128.29 551.83,128.64 552.18,128.99 552.49,129.34 552.74,129.69 552.94,130.04 553.08,130.39 553.17,130.74 553.23,131.09 553.26,131.44 553.28,131.79 553.29,132.14 553.3,132.49 553.3,132.84 553.3,133.19 553.3,133.54 553.3,133.89 553.3,134.24 553.3,134.59 553.3,134.94 553.3,135.29 553.3,135.64 553.3,135.99 553.3,136.34 553.3,136.69 553.3,137.04 553.3,137.39 553.3,137.74 553.3,138.09 553.3,138.44 553.3,138.79 553.3,139.14 553.3,139.49 553.3,139.84 553.3,140.19 553.3,140.54 553.3,140.89 553.3,141.24 553.3,141.59 553.3,141.94 553.3,142.29 553.3,142.64 553.3,142.99 553.3,143.34 553.3,143.69 553.3,144.04 554,144.09"/>
<polygon fill="#2f6fb0" stroke="#333" stroke-width="0.35" stroke-opacity="0.75" points="581.1,49.82 581.1,49.82 581.1,50.17 581.1,50.52 581.1,50.87 581.1,51.22 581.1,51.57 581.1,51.92 581.1,52.27 581.1,52.62 581.1,52.97 581.1,53.32 581.1,53.67 581.1,54.02 581.1,54.37 581.1,54.72 581.1,55.07 581.1,55.42 581.1,55.77 581.1,56.12 581.1,56.47 581.1,56.82 581.1,57.17 581.1,57.52 581.1,57.87 581.1,58.22 581.1,58.57 581.1,58.92 581.1,59.27 581.1,59.62 581.1,59.97 581.1,60.32 581.1,60.67 581.1,61.02 581.1,61.37 581.1,61.72 581.1,62.07 581.1,62.42 581.1,62.77 581.1,63.12 581.1,63.47 581.1,63.82 581.1,64.17 581.1,64.52 581.1,64.87 581.1,65.22 581.1,65.57 581.1,65.92 581.1,66.27 581.1,66.62 581.1,66.97 581.1,67.32 581.1,67.67 581.1,68.02 581.1,68.37 581.1,68.72 581.1,69.07 581.1,69.42 581.1,69.77 581.1,70.12 581.1,70.47 581.1,70.82 581.1,71.17 581.1,71.52 581.1,71.87 581.1,72.22 581.1,72.57 581.1,72.92 581.1,73.27 580.57,73.62 578.7,73.97 576.83,74.32 576.5,74.67 576.79,75.02 577.07,75.37 577.36,75.72 577.69,76.07 578.31,76.42 578.93,76.77 579.56,77.12 580.18,77.47 580.8,77.82 581.06,78.17 581.1,78.52 581.1,78.87 581.1,79.22 581.1,79.57 581.1,79.92 581.1,80.27 581.1,80.62 581.1,80.97 581.1,81.32 581.1,81.67 581.1,82.02 581.1,82.37 581.1,82.72 581.1,83.07 581.1,83.42 581.1,83.77 581.1,84.12 581.1,84.47 581.1,84.82 581.1,85.17 581.1,85.52 581.1,85.87 581.1,86.22 581.1,86.57 581.1,86.92 580.94,87.27 579.82,87.62 578.7,87.97 577.81,88.32 577.49,88.67 577.18,89.02 576.86,89.37 576.55,89.72 576.23,90.07 576.3,90.42 576.65,90.77 577,91.12 577.35,91.47 577.52,91.82 577.22,92.17 576.93,92.52 576.64,92.87 576.35,93.22 575.78,93.57 573.55,93.92 571.33,94.27 569.1,94.62 564.72,94.97 560.35,95.32 561.96,95.67 565.96,96.02 567.49,96.37 568.04,96.72 569.89,97.07 572.25,97.42 573.15,97.77 572.1,98.12 571.05,98.47 571.6,98.82 573.35,99.17 575.1,99.52 574.18,99.87 573.27,100.22 572.35,100.57 572.03,100.92 573.16,101.27 574.3,101.62 575.44,101.97 575.24,102.32 574.81,102.67 574.39,103.02 573.96,103.37 574.2,103.72 574.55,104.07 574.9,104.42 575.74,104.77 576.58,105.12 577.26,105.47 576.99,105.82 576.72,106.17 576.45,106.52 576.48,106.87 576.89,107.22 577.3,107.57 577.46,107.92 576.96,108.27 576.46,108.62 575.96,108.97 575.75,109.32 576.28,109.67 576.8,110.02 577.33,110.37 577.63,110.72 577.39,111.07 577.15,111.42 576.91,111.77 576.67,112.12 576.79,112.47 577.05,112.82 577.31,113.17 577.58,113.52 577.84,113.87 578.1,114.22 578.91,114.57 579.72,114.92 580.52,115.27 581.1,115.62 581.1,115.97 581.1,116.32 581.1,116.67 581.1,117.02 581.1,117.37 581.1,117.72 581.1,118.07 581.1,118.42 579.54,118.77 577.37,119.12 575.53,119.47 575.74,119.82 575.96,120.17 576.17,120.52 576.38,120.87 576.6,121.22 576.81,121.57 577.13,121.92 577.52,122.27 577.92,122.62 578.32,122.97 578.71,123.32 579.11,123.67 579.51,124.02 579.9,124.37 580.3,124.72 580.7,125.07 581.1,125.42 581.1,125.77 581.1,126.12 581.1,126.47 581.1,126.82 581.1,127.17 581.1,127.52 581.1,127.87 581.1,128.22 581.1,128.57 581.1,128.92 581.1,129.27 581.1,129.62 581.1,129.97 581.1,130.32 581.1,130.67 581.1,131.02 581.1,131.37 581.1,131.72 581.1,132.07 581.1,132.42 581.1,132.77 581.1,133.12 581.1,133.47 581.1,133.82 581.1,134.17 581.1,134.52 581.1,134.87 581.1,135.22 581.1,135.57 581.1,135.92 581.1,136.27 581.1,136.62 581.1,136.97 581.1,137.32 581.1,137.67 581.1,138.02 581.1,138.37 581.1,138.72 581.1,139.07 581.1,139.42 581.1,139.77 581.1,140.12 581.1,140.47 581.1,140.82 581.1,141.17 581.1,141.52 581.1,141.87 581.1,142.22 581.1,142.57 581.1,142.92 581.1,143.27 581.1,143.62 581.1,143.97 581.1,144.02"/>
<polygon fill="#e4a62f" stroke="#333" stroke-width="0.35" stroke-opacity="0.75" points="607.6,49.75 605.94,49.75 605.98,50.1 605.97,50.45 605.96,50.8 605.96,51.15 605.87,51.5 605.82,51.85 605.82,52.2 605.83,52.55 605.83,52.9 605.87,53.25 605.88,53.6 605.88,53.95 605.88,54.3 605.81,54.65 605.75,55 605.73,55.35 605.76,55.7 605.79,56.05 605.87,56.4 605.97,56.75 606,57.1 606.06,57.45 606.11,57.8 606.17,58.15 606.2,58.5 606.26,58.85 606.24,59.2 606.3,59.55 606.4,59.9 606.48,60.25 606.59,60.6 606.71,60.95 606.8,61.3 606.92,61.65 607.05,62 607.06,62.35 606.98,62.7 606.88,63.05 606.81,63.4 606.66,63.75 606.59,64.1 606.51,64.45 606.39,64.8 606.31,65.15 606.22,65.5 606.11,65.85 606.04,66.2 606.08,66.55 606.03,66.9 605.99,67.25 605.96,67.6 605.9,67.95 605.92,68.3 605.94,68.65 605.91,69 605.87,69.35 605.81,69.7 605.74,70.05 605.67,70.4 605.65,70.75 605.59,71.1 605.53,71.45 605.55,71.8 605.49,72.15 605.52,72.5 605.51,72.85 605.43,73.2 605.42,73.55 605.36,73.9 605.34,74.25 605.32,74.6 605.26,74.95 605.21,75.3 605.16,75.65 605.14,76 605.11,76.35 605.06,76.7 605.03,77.05 605.06,77.4 605.09,77.75 605.06,78.1 605.14,78.45 605.15,78.8 605.15,79.15 605.22,79.5 605.19,79.85 605.21,80.2 605.27,80.55 605.29,80.9 605.34,81.25 605.4,81.6 605.42,81.95 605.56,82.3 605.8,82.65 605.97,83 606.17,83.35 606.33,83.7 606.47,84.05 606.61,84.4 606.78,84.75 606.62,85.1 606.44,85.45 606.35,85.8 606.24,86.15 606.1,86.5 606.01,86.85 605.87,87.2 605.71,87.55 605.57,87.9 605.46,88.25 605.22,88.6 605.13,88.95 605.07,89.3 605.01,89.65 605.03,90 605.11,90.35 605.14,90.7 605.15,91.05 604.96,91.4 604.69,91.75 604.4,92.1 604.09,92.45 603.79,92.8 603.6,93.15 603.49,93.5 603.27,93.85 602.97,94.2 602.36,94.55 601.72,94.9 601.24,95.25 600.62,95.6 601.45,95.95 602.52,96.3 603.65,96.65 604.61,97 605.15,97.35 605.65,97.7 606.14,98.05 606.67,98.4 607.04,98.75 607.06,99.1 607.06,99.45 607.1,99.8 607.12,100.15 606.92,100.5 606.72,100.85 606.52,101.2 606.25,101.55 606.08,101.9 606,102.25 605.83,102.6 605.81,102.95 605.69,103.3 605.57,103.65 605.55,104 605.48,104.35 605.46,104.7 605.39,105.05 605.29,105.4 605.23,105.75 605.18,106.1 605.25,106.45 605.28,106.8 605.25,107.15 605.33,107.5 605.37,107.85 605.41,108.2 605.29,108.55 605.08,108.9 604.96,109.25 604.85,109.6 604.78,109.95 604.78,110.3 604.68,110.65 604.57,111 604.5,111.35 604.44,111.7 604.37,112.05 604.26,112.4 604.17,112.75 603.98,113.1 603.85,113.45 603.81,113.8 603.64,114.15 603.68,114.5 603.57,114.85 603.41,115.2 603.63,115.55 603.7,115.9 603.82,116.25 603.96,116.6 604.04,116.95 604.14,117.3 604.26,117.65 604.11,118 603.98,118.35 603.8,118.7 603.66,119.05 603.55,119.4 603.28,119.75 603.12,120.1 602.95,120.45 603.01,120.8 603.15,121.15 603.25,121.5 603.28,121.85 603.19,122.2 603.12,122.55 603.03,122.9 603.11,123.25 603.2,123.6 603.43,123.95 603.55,124.3 603.73,124.65 603.91,125 604,125.35 604.08,125.7 604.17,126.05 604.34,126.4 604.32,126.75 604.22,127.1 604.12,127.45 603.91,127.8 603.82,128.15 603.78,128.5 603.66,128.85 603.47,129.2 603.26,129.55 603.25,129.9 603.36,130.25 603.55,130.6 603.69,130.95 603.8,131.3 603.92,131.65 604.07,132 604.15,132.35 604.31,132.7 604.42,133.05 604.54,133.4 604.6,133.75 604.44,134.1 604.28,134.45 604.15,134.8 604.07,135.15 603.96,135.5 603.82,135.85 603.63,136.2 603.42,136.55 603.48,136.9 603.52,137.25 603.52,137.6 603.64,137.95 603.59,138.3 603.61,138.65 603.73,139 603.75,139.35 603.84,139.7 603.88,140.05 603.9,140.4 603.97,140.75 603.97,141.1 603.97,141.45 604.11,141.8 604.2,142.15 604.35,142.5 604.44,142.85 604.5,143.2 604.53,143.55 604.57,143.9 607.6,143.95"/>
<polygon fill="#67b6e8" stroke="#333" stroke-width="0.35" stroke-opacity="0.75" points="635.2,49.67 634.95,49.67 634.95,50.02 634.95,50.37 634.95,50.72 634.95,51.07 634.95,51.42 634.95,51.77 634.95,52.12 634.95,52.47 634.95,52.82 634.95,53.17 634.95,53.52 634.95,53.87 634.95,54.22 634.95,54.57 634.95,54.92 634.95,55.27 634.95,55.62 634.95,55.97 634.95,56.32 634.95,56.67 634.95,57.02 634.95,57.37 634.95,57.72 634.95,58.07 634.95,58.42 634.95,58.77 634.95,59.12 634.95,59.47 634.95,59.82 634.95,60.17 634.95,60.52 634.95,60.87 634.94,61.22 634.94,61.57 634.93,61.92 634.93,62.27 634.91,62.62 634.9,62.97 634.87,63.32 634.84,63.67 634.8,64.02 634.74,64.37 634.67,64.72 634.57,65.07 634.44,65.42 634.28,65.77 634.09,66.12 633.85,66.47 633.56,66.82 633.23,67.17 632.84,67.52 632.4,67.87 631.91,68.22 631.37,68.57 630.8,68.92 630.2,69.27 629.59,69.62 628.97,69.97 628.38,70.32 627.83,70.67 627.34,71.02 626.92,71.37 626.59,71.72 626.37,72.07 626.26,72.42 626.27,72.77 626.39,73.12 626.63,73.47 626.97,73.82 627.4,74.17 627.91,74.52 628.46,74.87 629.06,75.22 629.67,75.57 630.28,75.92 630.87,76.27 631.43,76.62 631.96,76.97 632.43,77.32 632.84,77.67 633.19,78.02 633.48,78.37 633.71,78.72 633.87,79.07 633.96,79.42 634,79.77 633.96,80.12 633.86,80.47 633.7,80.82 633.47,81.17 633.18,81.52 632.82,81.87 632.4,82.22 631.93,82.57 631.42,82.92 630.87,83.27 630.31,83.62 629.75,83.97 629.21,84.32 628.71,84.67 628.27,85.02 627.91,85.37 627.65,85.72 627.49,86.07 627.45,86.42 627.53,86.77 627.71,87.12 628.01,87.47 628.39,87.82 628.85,88.17 629.36,88.52 629.92,88.87 630.48,89.22 631.05,89.57 631.59,89.92 632.11,90.27 632.58,90.62 633,90.97 633.37,91.32 633.69,91.67 633.94,92.02 634.13,92.37 634.26,92.72 634.32,93.07 634.32,93.42 634.28,93.77 634.2,94.12 634.13,94.47 634.09,94.82 634.1,95.17 634.17,95.52 634.29,95.87 634.43,96.22 634.57,96.57 634.7,96.92 634.8,97.27 634.86,97.62 634.91,97.97 634.93,98.32 634.94,98.67 634.95,99.02 634.95,99.37 634.95,99.72 634.95,100.07 634.95,100.42 634.95,100.77 634.95,101.12 634.95,101.47 634.95,101.82 634.95,102.17 634.95,102.52 634.95,102.87 634.95,103.22 634.95,103.57 634.95,103.92 634.95,104.27 634.95,104.62 634.95,104.97 634.94,105.32 634.94,105.67 634.94,106.02 634.93,106.37 634.92,106.72 634.91,107.07 634.9,107.42 634.87,107.77 634.84,108.12 634.8,108.47 634.75,108.82 634.67,109.17 634.58,109.52 634.45,109.87 634.3,110.22 634.1,110.57 633.86,110.92 633.56,111.27 633.21,111.62 632.78,111.97 632.29,112.32 631.71,112.67 631.06,113.02 630.33,113.37 629.52,113.72 628.64,114.07 627.69,114.42 626.71,114.77 625.69,115.12 624.66,115.47 623.64,115.82 622.67,116.17 621.76,116.52 620.94,116.87 620.23,117.22 619.67,117.57 619.26,117.92 619.02,118.27 618.95,118.62 619.07,118.97 619.36,119.32 619.81,119.67 620.42,120.02 621.16,120.37 622.01,120.72 622.94,121.07 623.93,121.42 624.95,121.77 625.98,122.12 626.99,122.47 627.97,122.82 628.89,123.17 629.76,123.52 630.54,123.87 631.26,124.22 631.89,124.57 632.44,124.92 632.91,125.27 633.32,125.62 633.66,125.97 633.93,126.32 634.16,126.67 634.35,127.02 634.49,127.37 634.61,127.72 634.7,128.07 634.76,128.42 634.82,128.77 634.85,129.12 634.88,129.47 634.9,129.82 634.92,130.17 634.93,130.52 634.93,130.87 634.94,131.22 634.94,131.57 634.95,131.92 634.95,132.27 634.95,132.62 634.95,132.97 634.95,133.32 634.95,133.67 634.95,134.02 634.95,134.37 634.95,134.72 634.95,135.07 634.95,135.42 634.95,135.77 634.95,136.12 634.95,136.47 634.95,136.82 634.95,137.17 634.95,137.52 634.95,137.87 634.95,138.22 634.95,138.57 634.95,138.92 634.95,139.27 634.95,139.62 634.95,139.97 634.95,140.32 634.95,140.67 634.95,141.02 634.95,141.37 634.95,141.72 634.95,142.07 634.95,142.42 634.95,142.77 634.95,143.12 634.95,143.47 634.95,143.82 635.2,143.87"/>
<polygon fill="#8cc540" stroke="#333" stroke-width="0.35" stroke-opacity="0.75" points="662.6,49.6 662.35,49.6 662.35,49.95 662.35,50.3 662.35,50.65 662.35,51 662.35,51.35 662.35,51.7 662.35,52.05 662.35,52.4 662.35,52.75 662.35,53.1 662.35,53.45 662.34,53.8 662.34,54.15 662.34,54.5 662.33,54.85 662.33,55.2 662.32,55.55 662.3,55.9 662.28,56.25 662.26,56.6 662.22,56.95 662.18,57.3 662.12,57.65 662.05,58 661.96,58.35 661.84,58.7 661.7,59.05 661.53,59.4 661.32,59.75 661.07,60.1 660.79,60.45 660.45,60.8 660.07,61.15 659.65,61.5 659.17,61.85 658.66,62.2 658.1,62.55 657.52,62.9 656.91,63.25 656.28,63.6 655.66,63.95 655.05,64.3 654.47,64.65 653.94,65 653.46,65.35 653.05,65.7 652.73,66.05 652.5,66.4 652.38,66.75 652.35,67.1 652.44,67.45 652.62,67.8 652.91,68.15 653.28,68.5 653.73,68.85 654.24,69.2 654.8,69.55 655.4,69.9 656.02,70.25 656.64,70.6 657.26,70.95 657.86,71.3 658.43,71.65 658.96,72 659.45,72.35 659.9,72.7 660.3,73.05 660.65,73.4 660.96,73.75 661.22,74.1 661.44,74.45 661.63,74.8 661.78,75.15 661.91,75.5 662.01,75.85 662.09,76.2 662.16,76.55 662.21,76.9 662.24,77.25 662.27,77.6 662.29,77.95 662.31,78.3 662.32,78.65 662.33,79 662.34,79.35 662.34,79.7 662.34,80.05 662.35,80.4 662.35,80.75 662.35,81.1 662.35,81.45 662.35,81.8 662.35,82.15 662.35,82.5 662.35,82.85 662.34,83.2 662.34,83.55 662.33,83.9 662.33,84.25 662.32,84.6 662.3,84.95 662.28,85.3 662.25,85.65 662.21,86 662.16,86.35 662.08,86.7 661.99,87.05 661.88,87.4 661.73,87.75 661.55,88.1 661.33,88.45 661.07,88.8 660.76,89.15 660.41,89.5 660,89.85 659.56,90.2 659.07,90.55 658.55,90.9 658.01,91.25 657.46,91.6 656.91,91.95 656.39,92.3 655.9,92.65 655.47,93 655.1,93.35 654.82,93.7 654.64,94.05 654.55,94.4 654.58,94.75 654.7,95.1 654.93,95.45 655.25,95.8 655.64,96.15 656.1,96.5 656.61,96.85 657.15,97.2 657.7,97.55 658.25,97.9 658.78,98.25 659.28,98.6 659.75,98.95 660.18,99.3 660.56,99.65 660.9,100 661.18,100.35 661.43,100.7 661.63,101.05 661.8,101.4 661.93,101.75 662.03,102.1 662.12,102.45 662.18,102.8 662.23,103.15 662.26,103.5 662.29,103.85 662.31,104.2 662.32,104.55 662.33,104.9 662.34,105.25 662.34,105.6 662.34,105.95 662.35,106.3 662.35,106.65 662.35,107 662.35,107.35 662.35,107.7 662.35,108.05 662.35,108.4 662.35,108.75 662.35,109.1 662.35,109.45 662.35,109.8 662.35,110.15 662.35,110.5 662.35,110.85 662.35,111.2 662.35,111.55 662.35,111.9 662.34,112.25 662.34,112.6 662.34,112.95 662.33,113.3 662.32,113.65 662.3,114 662.28,114.35 662.26,114.7 662.22,115.05 662.17,115.4 662.1,115.75 662.02,116.1 661.91,116.45 661.78,116.8 661.61,117.15 661.41,117.5 661.16,117.85 660.87,118.2 660.54,118.55 660.15,118.9 659.72,119.25 659.25,119.6 658.73,119.95 658.18,120.3 657.61,120.65 657.03,121 656.45,121.35 655.9,121.7 655.38,122.05 654.91,122.4 654.51,122.75 654.2,123.1 653.98,123.45 653.87,123.8 653.86,124.15 653.96,124.5 654.16,124.85 654.46,125.2 654.85,125.55 655.31,125.9 655.82,126.25 656.37,126.6 656.95,126.95 657.53,127.3 658.1,127.65 658.65,128 659.17,128.35 659.66,128.7 660.09,129.05 660.49,129.4 660.83,129.75 661.12,130.1 661.37,130.45 661.58,130.8 661.76,131.15 661.89,131.5 662.01,131.85 662.09,132.2 662.16,132.55 662.21,132.9 662.25,133.25 662.28,133.6 662.3,133.95 662.32,134.3 662.33,134.65 662.33,135 662.34,135.35 662.34,135.7 662.35,136.05 662.35,136.4 662.35,136.75 662.35,137.1 662.35,137.45 662.35,137.8 662.35,138.15 662.35,138.5 662.35,138.85 662.35,139.2 662.35,139.55 662.35,139.9 662.35,140.25 662.35,140.6 662.35,140.95 662.35,141.3 662.35,141.65 662.35,142 662.35,142.35 662.35,142.7 662.35,143.05 662.35,143.4 662.35,143.75 662.6,143.8"/>
<path stroke="#4a4a4a" stroke-width="0.85" fill="none" d="M345 96.36L367.8 96.3M371.7 96.29L394 96.23M397.9 96.22L420.2 96.16M424.1 96.15L446.4 96.09M450.3 96.08L472.6 96.02M476.5 96L500.2 95.94M504.1 95.93L527.1 95.87M531 95.86L554.3 95.79M558.2 95.78L581.4 95.72M585.3 95.71L607.9 95.65M611.8 95.64L635.5 95.57M639.4 95.56L664.4 95.5"/>
<text x="313.8" y="99.3" font-size="8.6" text-anchor="start" fill="#000">CCNE1</text>
<g stroke="#444" stroke-width="0.7" fill="none">
<line x1="473.5" y1="45" x2="473.5" y2="164"/>
<rect x="342.8" y="148.6" width="321.8" height="15.4"/>
</g>
<text x="407.3" y="159.7" font-size="8.7" text-anchor="middle" fill="#000">All SVs</text>
<text x="569.1" y="159.7" font-size="8.7" text-anchor="middle" fill="#000">Complex SVs</text>
<text transform="translate(678.3,92.8) rotate(-90)" font-size="8.8" text-anchor="middle">Chromosome 19</text>
<text transform="translate(366.4,44.7) rotate(-40)" font-size="8.7">All SVs</text>
<text transform="translate(387.3,44.7) rotate(-40)" font-size="8.7">Deletion</text>
<text transform="translate(415.4,44.7) rotate(-40)" font-size="8.7">Duplication</text>
<text transform="translate(443.3,44.9) rotate(-40)" font-size="8.7">Inversion</text>
<text transform="translate(468.8,44.9) rotate(-40)" font-size="8.7">Translocation</text>
<text transform="translate(497,44.4) rotate(-40)" font-size="8.7">All complex SVs</text>
<text transform="translate(514.6,44.6) rotate(-40)" font-size="8.7">Breakage</text>
<text transform="translate(528.5,44.6) rotate(-40)" font-size="8.7">fusion bridges</text>
<text transform="translate(552.6,44.3) rotate(-40)" font-size="8.7">ecDNA</text>
<text transform="translate(579.8,44.6) rotate(-40)" font-size="8.7">Chromothripsis</text>
<text transform="translate(608.3,45) rotate(-40)" font-size="8.7">Chromoplexy</text>
<text transform="translate(635.2,45.3) rotate(-40)" font-size="8.7">Rigma</text>
<text transform="translate(664.2,42.6) rotate(-40)" font-size="8.7">Pygo</text>
<line x1="383.6" y1="269.6" x2="596.6" y2="269.6" stroke="#c4c4c4" stroke-width="0.7" stroke-dasharray="1.6 1.6"/>
<g stroke="#333" stroke-width="0.95" fill="none">
<path d="M383.6 190.5V349.1H621"/>
<line x1="381.2" y1="209.5" x2="383.6" y2="209.5"/>
<line x1="381.2" y1="239.6" x2="383.6" y2="239.6"/>
<line x1="381.2" y1="269.7" x2="383.6" y2="269.7"/>
<line x1="381.2" y1="299.8" x2="383.6" y2="299.8"/>
<line x1="381.2" y1="329.9" x2="383.6" y2="329.9"/>
<line x1="394.1" y1="349.1" x2="394.1" y2="351.5"/>
<line x1="466.1" y1="349.1" x2="466.1" y2="351.5"/>
<line x1="538.1" y1="349.1" x2="538.1" y2="351.5"/>
<line x1="610.1" y1="349.1" x2="610.1" y2="351.5"/>
</g>
<text x="380.3" y="211.9" font-size="6.9" text-anchor="end" fill="#4d4d4d">1.0</text>
<text x="380.3" y="242" font-size="6.9" text-anchor="end" fill="#4d4d4d">0.5</text>
<text x="380.3" y="272.1" font-size="6.9" text-anchor="end" fill="#4d4d4d">0.0</text>
<text x="380.3" y="302.2" font-size="6.9" text-anchor="end" fill="#4d4d4d">−0.5</text>
<text x="380.3" y="332.3" font-size="6.9" text-anchor="end" fill="#4d4d4d">−1.0</text>
<text x="394.1" y="358.7" font-size="6.9" text-anchor="middle" fill="#4d4d4d">0</text>
<text x="466.1" y="358.7" font-size="6.9" text-anchor="middle" fill="#4d4d4d">10</text>
<text x="538.1" y="358.7" font-size="6.9" text-anchor="middle" fill="#4d4d4d">20</text>
<text x="610.1" y="358.7" font-size="6.9" text-anchor="middle" fill="#4d4d4d">30</text>
<text x="502.5" y="368.3" font-size="8.2" text-anchor="middle" fill="#000">Percentage of samples with hotspot event</text>
<text transform="translate(353.7,269.7) rotate(-90)" font-size="8.2" text-anchor="middle">Expression fold change with and</text>
<text transform="translate(363.2,269.7) rotate(-90)" font-size="8.2" text-anchor="middle">without a hotspot event (log2)</text>
<circle cx="499.5" cy="210.6" r="1.05" fill="#62bbeb"/>
<text x="474.1" y="211.1" font-size="7.8" font-weight="bold" font-style="italic" fill="#62bbeb" textLength="23" lengthAdjust="spacingAndGlyphs">CEP89</text>
<text x="470.5" y="219.2" font-size="6.3" font-style="italic" fill="#62bbeb" textLength="34.2" lengthAdjust="spacingAndGlyphs">(nr. CCNE1)</text>
<circle cx="537.9" cy="204.5" r="1.05" fill="#7e7e42"/>
<text x="510.9" y="204.9" font-size="7.8" font-weight="bold" font-style="italic" fill="#7e7e42" textLength="24.7" lengthAdjust="spacingAndGlyphs">CCNE1</text>
<circle cx="541.5" cy="219.9" r="1.05" fill="#cc6ab5"/>
<text x="514.2" y="219.8" font-size="7.8" font-weight="bold" font-style="italic" fill="#cc6ab5" textLength="24.5" lengthAdjust="spacingAndGlyphs">CCNE1</text>
<circle cx="530.6" cy="235.5" r="1.05" fill="#7e7e42"/>
<text x="505.4" y="236" font-size="7.8" font-weight="bold" font-style="italic" fill="#7e7e42" textLength="23" lengthAdjust="spacingAndGlyphs">CEP89</text>
<text x="500.7" y="243.7" font-size="6.3" font-style="italic" fill="#7e7e42" textLength="34.4" lengthAdjust="spacingAndGlyphs">(nr. CCNE1)</text>
<circle cx="566.5" cy="231.2" r="1.05" fill="#3aa86e"/>
<text x="533.2" y="232.4" font-size="7.8" font-weight="bold" font-style="italic" fill="#3aa86e" textLength="30.2" lengthAdjust="spacingAndGlyphs">DNMT3A</text>
<circle cx="576.6" cy="244" r="1.05" fill="#3aa86e"/>
<text x="550.8" y="245.1" font-size="7.8" font-weight="bold" font-style="italic" fill="#3aa86e" textLength="22.7" lengthAdjust="spacingAndGlyphs">TCEA1</text>
<circle cx="541.5" cy="300.3" r="1.05" fill="#3a74b4"/>
<text x="512.2" y="300.5" font-size="7.8" font-weight="bold" font-style="italic" fill="#3a74b4" textLength="26.9" lengthAdjust="spacingAndGlyphs">ARID1B</text>
<circle cx="569.2" cy="315.8" r="1.05" fill="#3a74b4"/>
<text x="555.4" y="312" font-size="7.8" font-weight="bold" font-style="italic" fill="#3a74b4" textLength="38.3" lengthAdjust="spacingAndGlyphs">LEPROTL1</text>
<text x="579" y="318" font-size="6.3" font-style="italic" fill="#3a74b4" textLength="29.5" lengthAdjust="spacingAndGlyphs">(nr. WRN)</text>
<circle cx="572.7" cy="322.7" r="1.05" fill="#3a74b4"/>
<text x="550.4" y="322.4" font-size="7.8" font-weight="bold" font-style="italic" fill="#3a74b4" textLength="19.8" lengthAdjust="spacingAndGlyphs">PCM1</text>
<circle cx="537.8" cy="320" r="1.05" fill="#3a74b4"/>
<text x="500.8" y="320.3" font-size="7.8" font-weight="bold" font-style="italic" fill="#3a74b4" textLength="35.2" lengthAdjust="spacingAndGlyphs">FGFR1OP</text>
<circle cx="523.6" cy="322" r="1.05" fill="#3a74b4"/>
<text x="516.2" y="329.8" font-size="7.8" font-weight="bold" font-style="italic" fill="#3a74b4" textLength="16.9" lengthAdjust="spacingAndGlyphs">WRN</text>
<circle cx="460.9" cy="320" r="1.05" fill="#e2a12c"/>
<text x="439.3" y="320.1" font-size="7.8" font-weight="bold" font-style="italic" fill="#e2a12c" textLength="19.5" lengthAdjust="spacingAndGlyphs">PTEN</text>
<circle cx="464.3" cy="330.7" r="1.05" fill="#3a74b4"/>
<text x="440.6" y="331.4" font-size="7.8" font-weight="bold" font-style="italic" fill="#3a74b4" textLength="21.6" lengthAdjust="spacingAndGlyphs">AXIN1</text>
<text x="601.9" y="237.3" font-size="8.6" text-anchor="start" fill="#000">Event type</text>
<circle cx="604.8" cy="246" r="2.75" fill="#3a74b4"/>
<text x="613.9" y="248.6" font-size="7.45" text-anchor="start" fill="#000">CNA deletion</text>
<circle cx="604.8" cy="254" r="2.75" fill="#3aa86e"/>
<text x="613.9" y="256.6" font-size="7.45" text-anchor="start" fill="#000">CNA duplication</text>
<circle cx="604.8" cy="262" r="2.75" fill="#62bbeb"/>
<text x="613.9" y="264.6" font-size="7.45" text-anchor="start" fill="#000">SV deletion</text>
<circle cx="604.8" cy="270" r="2.75" fill="#7e7e42"/>
<text x="613.9" y="272.6" font-size="7.45" text-anchor="start" fill="#000">SV duplication</text>
<circle cx="604.8" cy="278" r="2.75" fill="#cc6ab5"/>
<text x="613.9" y="280.6" font-size="7.45" text-anchor="start" fill="#000">Inversion</text>
<circle cx="604.8" cy="286" r="2.75" fill="#e2a12c"/>
<text x="613.9" y="288.6" font-size="7.45" text-anchor="start" fill="#000">Breakpoint disruption</text>
</svg>
</body></html>
